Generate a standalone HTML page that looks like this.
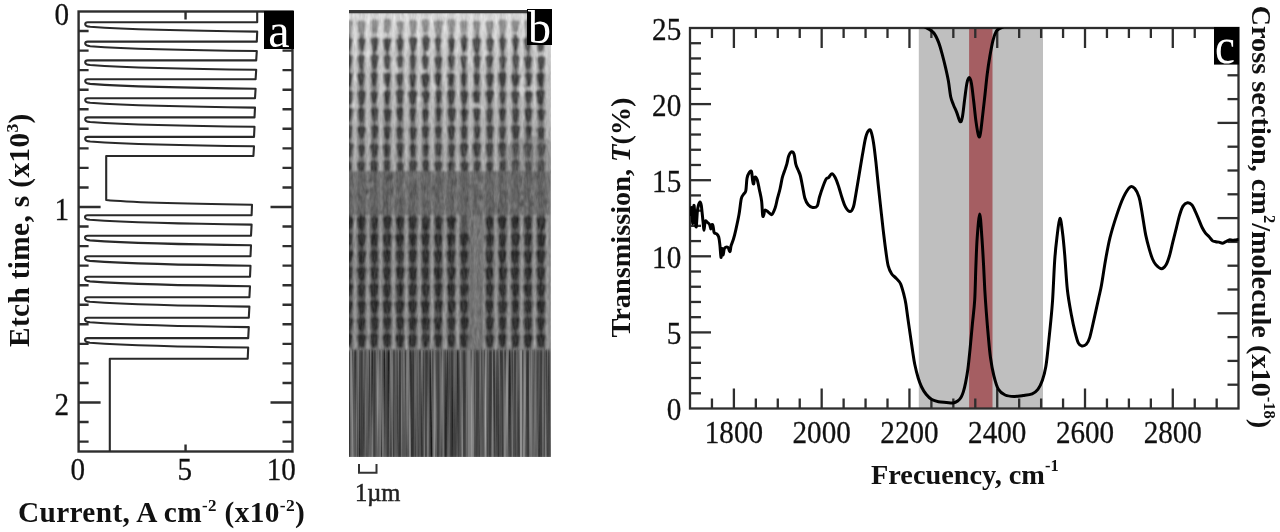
<!DOCTYPE html>
<html><head><meta charset="utf-8"><title>Figure</title>
<style>
html,body{margin:0;padding:0;background:#fff;width:1280px;height:532px;overflow:hidden}
svg{display:block;filter:blur(0.65px)}
</style></head><body>
<svg width="1280" height="532" viewBox="0 0 1280 532">
<rect width="1280" height="532" fill="#fff"/>
<g id="pa" stroke="#2e2e2e" fill="none" stroke-width="2.4">
<rect x="78.6" y="11.5" width="213.9" height="440"/>
<path d="M78.6,31.05h10M292.5,31.05h-10"/>
<path d="M78.6,50.6h10M292.5,50.6h-10"/>
<path d="M78.6,70.15h10M292.5,70.15h-10"/>
<path d="M78.6,89.7h10M292.5,89.7h-10"/>
<path d="M78.6,109.25h10M292.5,109.25h-10"/>
<path d="M78.6,128.8h10M292.5,128.8h-10"/>
<path d="M78.6,148.35h10M292.5,148.35h-10"/>
<path d="M78.6,167.9h10M292.5,167.9h-10"/>
<path d="M78.6,187.45h10M292.5,187.45h-10"/>
<path d="M78.6,207h22M292.5,207h-22"/>
<path d="M78.6,226.55h10M292.5,226.55h-10"/>
<path d="M78.6,246.1h10M292.5,246.1h-10"/>
<path d="M78.6,265.65h10M292.5,265.65h-10"/>
<path d="M78.6,285.2h10M292.5,285.2h-10"/>
<path d="M78.6,304.75h10M292.5,304.75h-10"/>
<path d="M78.6,324.3h10M292.5,324.3h-10"/>
<path d="M78.6,343.85h10M292.5,343.85h-10"/>
<path d="M78.6,363.4h10M292.5,363.4h-10"/>
<path d="M78.6,382.95h10M292.5,382.95h-10"/>
<path d="M78.6,402.5h22M292.5,402.5h-22"/>
<path d="M78.6,422.05h10M292.5,422.05h-10"/>
<path d="M78.6,441.6h10M292.5,441.6h-10"/>
<path d="M185.55,11.5v8M185.55,451.5v-7"/>
</g>
<path d="M257.2,11.5 L257.2,22.2 L87.7,22.2 Q85.2,22.2 85.2,24.2 Q85.2,26.2 90.2,26.8 C125.2,29.2 197.2,31 257.2,31.6 L256.8,41.6 L87.7,41.6 Q85.2,41.6 85.2,43.6 Q85.2,45.6 90.2,46.2 C125.2,48.6 196.8,50.4 256.8,51 L256.2,60.4 L87.7,60.4 Q85.2,60.4 85.2,62.4 Q85.2,64.4 90.2,65 C125.2,67.4 196.2,69.2 256.2,69.8 L255.6,79.3 L87.7,79.3 Q85.2,79.3 85.2,81.3 Q85.2,83.3 90.2,83.9 C125.2,86.3 195.6,88.1 255.6,88.7 L255,98.2 L87.7,98.2 Q85.2,98.2 85.2,100.2 Q85.2,102.2 90.2,102.8 C125.2,105.2 195,107 255,107.6 L254.5,117.4 L87.7,117.4 Q85.2,117.4 85.2,119.4 Q85.2,121.4 90.2,122 C125.2,124.4 194.5,126.2 254.5,126.8 L254,136.9 L87.7,136.9 Q85.2,136.9 85.2,138.9 Q85.2,140.9 90.2,141.5 C125.2,143.9 194,145.7 254,146.3 L253.4,156 L106.2,156 L106.2,200 C130,202.5 200,204 252,204.7 L251.6,215.2 L87.5,215.2 Q85,215.2 85,217.2 Q85,219.2 90,219.8 C125,222.2 191.6,224 251.6,224.6 L251,235.8 L87.5,235.8 Q85,235.8 85,237.8 Q85,239.8 90,240.4 C125,242.8 191,244.6 251,245.2 L250.5,256.3 L87.5,256.3 Q85,256.3 85,258.3 Q85,260.3 90,260.9 C125,263.3 190.5,265.1 250.5,265.7 L250,276.8 L87.5,276.8 Q85,276.8 85,278.8 Q85,280.8 90,281.4 C125,283.8 190,285.6 250,286.2 L249.4,297.2 L87.5,297.2 Q85,297.2 85,299.2 Q85,301.2 90,301.8 C125,304.2 189.4,306 249.4,306.6 L248.8,317.7 L87.5,317.7 Q85,317.7 85,319.7 Q85,321.7 90,322.3 C125,324.7 188.8,326.5 248.8,327.1 L248.2,338.1 L87.5,338.1 Q85,338.1 85,340.1 Q85,342.1 90,342.7 C125,345.1 188.2,346.9 248.2,347.5 L247.7,358.7 L109.8,358.7 L109.8,451.5" stroke="#2a2a2a" stroke-width="2.1" fill="none" stroke-linejoin="round"/>
<g font-family="Liberation Serif" font-size="28.3" fill="#111">
<text transform="translate(69,24.52) scale(1.03,1.1)" text-anchor="end" stroke="#111" stroke-width="0.25">0</text>
<text transform="translate(69,219.52) scale(1.03,1.1)" text-anchor="end" stroke="#111" stroke-width="0.25">1</text>
<text transform="translate(69,415.02) scale(1.03,1.1)" text-anchor="end" stroke="#111" stroke-width="0.25">2</text>
<text transform="translate(77.8,480) scale(1.03,1.1)" text-anchor="middle" stroke="#111" stroke-width="0.25">0</text>
<text transform="translate(184.75,480) scale(1.03,1.1)" text-anchor="middle" stroke="#111" stroke-width="0.25">5</text>
<text transform="translate(281.2,480) scale(1.03,1.1)" text-anchor="middle" stroke="#111" stroke-width="0.25">10</text>
</g>
<rect x="264" y="11" width="30" height="38" fill="#000"/>
<text x="279" y="46.5" text-anchor="middle" font-family="Liberation Serif" font-size="48" fill="#fff">a</text>
<text x="18" y="522" font-family="Liberation Serif" font-weight="bold" font-size="29.3" letter-spacing="0.36" fill="#111">Current, A cm<tspan font-size="17" dy="-11">-2</tspan><tspan dy="11"> (x10</tspan><tspan font-size="17.5" dy="-11">-2</tspan><tspan dy="11">)</tspan></text>
<text transform="translate(28.6,347) rotate(-90)" font-family="Liberation Serif" font-weight="bold" font-size="29.3" letter-spacing="0.36" fill="#111">Etch time, s (x10<tspan font-size="17.5" dy="-11">3</tspan><tspan dy="11">)</tspan></text>
<defs>
<clipPath id="semclip"><rect x="349" y="10" width="202" height="447"/></clipPath>
<filter id="bl1" x="-5%" y="-5%" width="110%" height="110%"><feGaussianBlur stdDeviation="1.1"/></filter>
<filter id="bl2" x="-5%" y="-5%" width="110%" height="110%"><feGaussianBlur stdDeviation="0.6 1.5"/></filter>
<linearGradient id="semtop" x1="0" y1="0" x2="0" y2="1"><stop offset="0" stop-color="#e2e2e2"/><stop offset="0.18" stop-color="#d0d0d0"/><stop offset="0.4" stop-color="#acacac"/><stop offset="1" stop-color="#888"/></linearGradient><linearGradient id="semstripe" x1="0" y1="0" x2="0" y2="1"><stop offset="0" stop-color="#f6f6f6"/><stop offset="0.3" stop-color="#d6d6d6"/><stop offset="1" stop-color="#b2b2b2"/></linearGradient>
<filter id="noise" x="0" y="0" width="100%" height="100%" color-interpolation-filters="sRGB"><feTurbulence type="fractalNoise" baseFrequency="0.35 0.12" numOctaves="2" seed="5"/><feColorMatrix type="matrix" values="0.6 0.6 0.6 0 -0.4  0.6 0.6 0.6 0 -0.4  0.6 0.6 0.6 0 -0.4  0 0 0 0 1"/></filter>
<filter id="streak" x="0" y="0" width="100%" height="100%" color-interpolation-filters="sRGB"><feTurbulence type="fractalNoise" baseFrequency="0.42 0.006" numOctaves="2" seed="11"/><feColorMatrix type="matrix" values="0.55 0.55 0.55 0 -0.47  0.55 0.55 0.55 0 -0.47  0.55 0.55 0.55 0 -0.47  0 0 0 0 1"/></filter>
<clipPath id="cclip"><rect x="690" y="28" width="548.5" height="380.5"/></clipPath>
</defs>
<g clip-path="url(#semclip)">
<g filter="url(#bl1)"><rect x="349" y="10" width="202" height="447" fill="#999"/><rect x="349" y="13" width="202" height="160" fill="url(#semtop)"/><rect x="349" y="212" width="202" height="140" fill="#6a6a6a"/><rect x="352.8" y="13" width="4.6" height="158" fill="url(#semstripe)"/><rect x="353.5" y="214" width="3.2" height="136" fill="#a2a2a2"/><rect x="365.62" y="13" width="4.6" height="158" fill="url(#semstripe)"/><rect x="366.32" y="214" width="3.2" height="136" fill="#a2a2a2"/><rect x="378.44" y="13" width="4.6" height="158" fill="url(#semstripe)"/><rect x="379.14" y="214" width="3.2" height="136" fill="#a2a2a2"/><rect x="391.26" y="13" width="4.6" height="158" fill="url(#semstripe)"/><rect x="391.96" y="214" width="3.2" height="136" fill="#a2a2a2"/><rect x="404.08" y="13" width="4.6" height="158" fill="url(#semstripe)"/><rect x="404.78" y="214" width="3.2" height="136" fill="#a2a2a2"/><rect x="416.9" y="13" width="4.6" height="158" fill="url(#semstripe)"/><rect x="417.6" y="214" width="3.2" height="136" fill="#a2a2a2"/><rect x="429.72" y="13" width="4.6" height="158" fill="url(#semstripe)"/><rect x="430.42" y="214" width="3.2" height="136" fill="#a2a2a2"/><rect x="442.54" y="13" width="4.6" height="158" fill="url(#semstripe)"/><rect x="443.24" y="214" width="3.2" height="136" fill="#a2a2a2"/><rect x="455.36" y="13" width="4.6" height="158" fill="url(#semstripe)"/><rect x="456.06" y="214" width="3.2" height="136" fill="#a2a2a2"/><rect x="468.18" y="13" width="4.6" height="158" fill="url(#semstripe)"/><rect x="468.88" y="214" width="3.2" height="136" fill="#a2a2a2"/><rect x="481" y="13" width="4.6" height="158" fill="url(#semstripe)"/><rect x="481.7" y="214" width="3.2" height="136" fill="#a2a2a2"/><rect x="493.82" y="13" width="4.6" height="158" fill="url(#semstripe)"/><rect x="494.52" y="214" width="3.2" height="136" fill="#a2a2a2"/><rect x="506.64" y="13" width="4.6" height="158" fill="url(#semstripe)"/><rect x="507.34" y="214" width="3.2" height="136" fill="#a2a2a2"/><rect x="519.46" y="13" width="4.6" height="158" fill="url(#semstripe)"/><rect x="520.16" y="214" width="3.2" height="136" fill="#a2a2a2"/><rect x="532.28" y="13" width="4.6" height="158" fill="url(#semstripe)"/><rect x="532.98" y="214" width="3.2" height="136" fill="#a2a2a2"/><rect x="545.1" y="13" width="4.6" height="158" fill="url(#semstripe)"/><rect x="545.8" y="214" width="3.2" height="136" fill="#a2a2a2"/><rect x="346.5" y="34" width="4.4" height="136" fill="#6a6a6a"/><rect x="346.4" y="214" width="4.6" height="134" fill="#404040"/><rect x="359.32" y="34" width="4.4" height="136" fill="#6a6a6a"/><rect x="359.22" y="214" width="4.6" height="134" fill="#404040"/><rect x="372.14" y="34" width="4.4" height="136" fill="#6a6a6a"/><rect x="372.04" y="214" width="4.6" height="134" fill="#404040"/><rect x="384.96" y="34" width="4.4" height="136" fill="#6a6a6a"/><rect x="384.86" y="214" width="4.6" height="134" fill="#404040"/><rect x="397.78" y="34" width="4.4" height="136" fill="#6a6a6a"/><rect x="397.68" y="214" width="4.6" height="134" fill="#404040"/><rect x="410.6" y="34" width="4.4" height="136" fill="#6a6a6a"/><rect x="410.5" y="214" width="4.6" height="134" fill="#404040"/><rect x="423.42" y="34" width="4.4" height="136" fill="#6a6a6a"/><rect x="423.32" y="214" width="4.6" height="134" fill="#404040"/><rect x="436.24" y="34" width="4.4" height="136" fill="#6a6a6a"/><rect x="436.14" y="214" width="4.6" height="134" fill="#404040"/><rect x="449.06" y="34" width="4.4" height="136" fill="#6a6a6a"/><rect x="448.96" y="214" width="4.6" height="134" fill="#404040"/><rect x="461.88" y="34" width="4.4" height="136" fill="#6a6a6a"/><rect x="461.78" y="214" width="4.6" height="134" fill="#404040"/><rect x="474.7" y="34" width="4.4" height="136" fill="#6a6a6a"/><rect x="474.6" y="214" width="4.6" height="134" fill="#404040"/><rect x="487.52" y="34" width="4.4" height="136" fill="#6a6a6a"/><rect x="487.42" y="214" width="4.6" height="134" fill="#404040"/><rect x="500.34" y="34" width="4.4" height="136" fill="#6a6a6a"/><rect x="500.24" y="214" width="4.6" height="134" fill="#404040"/><rect x="513.16" y="34" width="4.4" height="136" fill="#6a6a6a"/><rect x="513.06" y="214" width="4.6" height="134" fill="#404040"/><rect x="525.98" y="34" width="4.4" height="136" fill="#6a6a6a"/><rect x="525.88" y="214" width="4.6" height="134" fill="#404040"/><rect x="538.8" y="34" width="4.4" height="136" fill="#6a6a6a"/><rect x="538.7" y="214" width="4.6" height="134" fill="#404040"/><ellipse cx="414.41" cy="28.48" rx="3.95" ry="2.29" fill="#f0f0f0" opacity="0.55"/><ellipse cx="457.25" cy="49.11" rx="2.17" ry="4.03" fill="#f0f0f0" opacity="0.55"/><ellipse cx="356.57" cy="55.63" rx="2.21" ry="2.36" fill="#f0f0f0" opacity="0.55"/><ellipse cx="434.75" cy="93.38" rx="2.37" ry="2.89" fill="#f0f0f0" opacity="0.55"/><ellipse cx="475.74" cy="104.98" rx="3.73" ry="3.59" fill="#f0f0f0" opacity="0.55"/><ellipse cx="546.2" cy="18.47" rx="4.58" ry="3.16" fill="#f0f0f0" opacity="0.55"/><ellipse cx="378.14" cy="25.31" rx="2.93" ry="5.26" fill="#f0f0f0" opacity="0.55"/><ellipse cx="385.51" cy="69.83" rx="3.92" ry="3.49" fill="#f0f0f0" opacity="0.55"/><ellipse cx="459.64" cy="20.03" rx="2.18" ry="2.82" fill="#f0f0f0" opacity="0.55"/><ellipse cx="486.44" cy="55.05" rx="2.94" ry="4.34" fill="#f0f0f0" opacity="0.55"/><ellipse cx="440.54" cy="42.78" rx="4.38" ry="4.8" fill="#f0f0f0" opacity="0.55"/><ellipse cx="398.31" cy="69.14" rx="3.58" ry="5.5" fill="#f0f0f0" opacity="0.55"/><ellipse cx="496.35" cy="41.64" rx="4.94" ry="2.47" fill="#f0f0f0" opacity="0.55"/><ellipse cx="433.46" cy="86.69" rx="2.46" ry="3.96" fill="#f0f0f0" opacity="0.55"/><ellipse cx="356.92" cy="78.15" rx="4.29" ry="4.29" fill="#f0f0f0" opacity="0.55"/><ellipse cx="525.85" cy="44.12" rx="4.09" ry="4.38" fill="#f0f0f0" opacity="0.55"/><ellipse cx="466.14" cy="57.8" rx="4.52" ry="5.78" fill="#f0f0f0" opacity="0.55"/><ellipse cx="444.77" cy="77.76" rx="2.18" ry="4.81" fill="#f0f0f0" opacity="0.55"/><ellipse cx="479.72" cy="109.34" rx="4.47" ry="3.14" fill="#f0f0f0" opacity="0.55"/><ellipse cx="426.93" cy="78.19" rx="2.07" ry="3.85" fill="#f0f0f0" opacity="0.55"/><ellipse cx="382.95" cy="25.24" rx="2.18" ry="5.07" fill="#f0f0f0" opacity="0.55"/><ellipse cx="375.13" cy="37.77" rx="3.17" ry="5.49" fill="#f0f0f0" opacity="0.55"/><ellipse cx="365.28" cy="57.12" rx="3.65" ry="5.53" fill="#f0f0f0" opacity="0.55"/><ellipse cx="514.49" cy="96.94" rx="2.84" ry="3.66" fill="#f0f0f0" opacity="0.55"/><ellipse cx="421.47" cy="98.88" rx="4.87" ry="2.6" fill="#f0f0f0" opacity="0.55"/><ellipse cx="384.6" cy="36.27" rx="2.7" ry="3.94" fill="#f0f0f0" opacity="0.55"/><ellipse cx="468" cy="39.22" rx="2.01" ry="3.68" fill="#f0f0f0" opacity="0.55"/><ellipse cx="423.59" cy="68.37" rx="4.86" ry="4.76" fill="#f0f0f0" opacity="0.55"/><ellipse cx="453.13" cy="73.29" rx="4.03" ry="2.22" fill="#f0f0f0" opacity="0.55"/><ellipse cx="530.71" cy="88.88" rx="4.62" ry="5.19" fill="#f0f0f0" opacity="0.55"/><ellipse cx="428.26" cy="52.3" rx="2.31" ry="4.54" fill="#f0f0f0" opacity="0.55"/><ellipse cx="361.57" cy="20.47" rx="2.63" ry="2.65" fill="#f0f0f0" opacity="0.55"/><ellipse cx="417.69" cy="19.05" rx="2" ry="2.61" fill="#f0f0f0" opacity="0.55"/><ellipse cx="369.5" cy="48.91" rx="2.08" ry="5.5" fill="#f0f0f0" opacity="0.55"/><ellipse cx="473.04" cy="28.26" rx="2.76" ry="3.39" fill="#f0f0f0" opacity="0.55"/><ellipse cx="422.56" cy="25.79" rx="4.55" ry="5.97" fill="#f0f0f0" opacity="0.55"/><ellipse cx="443.13" cy="60.45" rx="2.26" ry="2.41" fill="#f0f0f0" opacity="0.55"/><ellipse cx="418.21" cy="39.42" rx="4.49" ry="2.65" fill="#f0f0f0" opacity="0.55"/><ellipse cx="353.67" cy="105.29" rx="3.58" ry="2.59" fill="#f0f0f0" opacity="0.55"/><ellipse cx="458.72" cy="16.6" rx="3.58" ry="5.91" fill="#f0f0f0" opacity="0.55"/><ellipse cx="523.39" cy="80.83" rx="2.78" ry="3.47" fill="#f0f0f0" opacity="0.55"/><ellipse cx="382.74" cy="88.11" rx="3.6" ry="5.12" fill="#f0f0f0" opacity="0.55"/><ellipse cx="415.59" cy="35.41" rx="4.43" ry="5.94" fill="#f0f0f0" opacity="0.55"/><ellipse cx="521.23" cy="91.38" rx="4.45" ry="4.96" fill="#f0f0f0" opacity="0.55"/><ellipse cx="394.8" cy="63.69" rx="3.07" ry="2.12" fill="#f0f0f0" opacity="0.55"/><ellipse cx="354.64" cy="40.82" rx="2.78" ry="4.77" fill="#f0f0f0" opacity="0.55"/><ellipse cx="542.22" cy="56.93" rx="4.81" ry="5.95" fill="#f0f0f0" opacity="0.55"/><ellipse cx="541.91" cy="49.01" rx="2.66" ry="2.91" fill="#f0f0f0" opacity="0.55"/><ellipse cx="388.73" cy="33.62" rx="3.87" ry="5.6" fill="#f0f0f0" opacity="0.55"/><ellipse cx="518.77" cy="60.03" rx="3.96" ry="5.2" fill="#f0f0f0" opacity="0.55"/><path d="M345.12,23.05 Q345.12,20.05 349.11,20.05 Q353.1,20.05 353.1,23.05 L351.83,31.34 Q351.83,34.34 349.11,34.34 Q346.39,34.34 346.39,31.34 Z" fill="#707070" opacity="0.7"/><path d="M356.47,23.3 Q356.47,20.3 361.2,20.3 Q365.92,20.3 365.92,23.3 L364.41,31.11 Q364.41,34.11 361.2,34.11 Q357.99,34.11 357.99,31.11 Z" fill="#707070" opacity="0.7"/><path d="M370.55,22.32 Q370.55,19.32 374.81,19.32 Q379.08,19.32 379.08,22.32 L377.71,30.99 Q377.71,33.99 374.81,33.99 Q371.91,33.99 371.91,30.99 Z" fill="#707070" opacity="0.7"/><path d="M383.04,21.81 Q383.04,18.81 387.38,18.81 Q391.73,18.81 391.73,21.81 L390.34,30.87 Q390.34,33.87 387.38,33.87 Q384.43,33.87 384.43,30.87 Z" fill="#707070" opacity="0.7"/><path d="M396.35,23.76 Q396.35,20.76 400.38,20.76 Q404.42,20.76 404.42,23.76 L403.13,30.7 Q403.13,33.7 400.38,33.7 Q397.64,33.7 397.64,30.7 Z" fill="#707070" opacity="0.7"/><path d="M409.22,22.65 Q409.22,19.65 413.28,19.65 Q417.34,19.65 417.34,22.65 L416.04,31.39 Q416.04,34.39 413.28,34.39 Q410.52,34.39 410.52,31.39 Z" fill="#707070" opacity="0.7"/><path d="M420.97,22.12 Q420.97,19.12 425.25,19.12 Q429.54,19.12 429.54,22.12 L428.17,30.12 Q428.17,33.12 425.25,33.12 Q422.34,33.12 422.34,30.12 Z" fill="#707070" opacity="0.7"/><path d="M433.5,23.27 Q433.5,20.27 438.47,20.27 Q443.43,20.27 443.43,23.27 L441.84,31.54 Q441.84,34.54 438.47,34.54 Q435.09,34.54 435.09,31.54 Z" fill="#707070" opacity="0.7"/><path d="M447.21,21.97 Q447.21,18.97 451.59,18.97 Q455.96,18.97 455.96,21.97 L454.56,30.82 Q454.56,33.82 451.59,33.82 Q448.61,33.82 448.61,30.82 Z" fill="#707070" opacity="0.7"/><path d="M459.64,23.26 Q459.64,20.26 463.82,20.26 Q468,20.26 468,23.26 L466.66,30.58 Q466.66,33.58 463.82,33.58 Q460.98,33.58 460.98,30.58 Z" fill="#707070" opacity="0.7"/><path d="M472.35,23.55 Q472.35,20.55 476.53,20.55 Q480.72,20.55 480.72,23.55 L479.38,31.2 Q479.38,34.2 476.53,34.2 Q473.69,34.2 473.69,31.2 Z" fill="#707070" opacity="0.7"/><path d="M485.51,23.49 Q485.51,20.49 489.8,20.49 Q494.09,20.49 494.09,23.49 L492.72,31.25 Q492.72,34.25 489.8,34.25 Q486.89,34.25 486.89,31.25 Z" fill="#707070" opacity="0.7"/><path d="M498.18,22.35 Q498.18,19.35 502.54,19.35 Q506.9,19.35 506.9,22.35 L505.51,31.34 Q505.51,34.34 502.54,34.34 Q499.58,34.34 499.58,31.34 Z" fill="#707070" opacity="0.7"/><path d="M510.82,23.06 Q510.82,20.06 515.3,20.06 Q519.78,20.06 519.78,23.06 L518.34,29.65 Q518.34,32.65 515.3,32.65 Q512.26,32.65 512.26,29.65 Z" fill="#707070" opacity="0.7"/><path d="M523.95,22.43 Q523.95,19.43 527.85,19.43 Q531.76,19.43 531.76,22.43 L530.51,31.1 Q530.51,34.1 527.85,34.1 Q525.2,34.1 525.2,31.1 Z" fill="#707070" opacity="0.7"/><path d="M536.13,22.82 Q536.13,19.82 540.83,19.82 Q545.52,19.82 545.52,22.82 L544.02,30.84 Q544.02,33.84 540.83,33.84 Q537.63,33.84 537.63,30.84 Z" fill="#707070" opacity="0.7"/><path d="M343.8,40.22 Q343.8,37.22 348.31,37.22 Q352.82,37.22 352.82,40.22 L351.37,48.85 Q351.37,51.85 348.31,51.85 Q345.24,51.85 345.24,48.85 Z" fill="#404040" opacity="0.95"/><path d="M357.62,40.82 Q357.62,37.82 361.79,37.82 Q365.97,37.82 365.97,40.82 L364.63,48.1 Q364.63,51.1 361.79,51.1 Q358.95,51.1 358.95,48.1 Z" fill="#404040" opacity="0.95"/><path d="M370.23,40.09 Q370.23,37.09 374.75,37.09 Q379.27,37.09 379.27,40.09 L377.82,48.65 Q377.82,51.65 374.75,51.65 Q371.68,51.65 371.68,48.65 Z" fill="#404040" opacity="0.95"/><path d="M382.6,40.78 Q382.6,37.78 387.17,37.78 Q391.75,37.78 391.75,40.78 L390.28,48.66 Q390.28,51.66 387.17,51.66 Q384.06,51.66 384.06,48.66 Z" fill="#404040" opacity="0.95"/><path d="M395.56,41.09 Q395.56,38.09 399.96,38.09 Q404.36,38.09 404.36,41.09 L402.95,49.05 Q402.95,52.05 399.96,52.05 Q396.97,52.05 396.97,49.05 Z" fill="#404040" opacity="0.95"/><path d="M408.57,39.68 Q408.57,36.68 413.24,36.68 Q417.91,36.68 417.91,39.68 L416.42,48.55 Q416.42,51.55 413.24,51.55 Q410.07,51.55 410.07,48.55 Z" fill="#404040" opacity="0.95"/><path d="M421.44,39.42 Q421.44,36.42 425.96,36.42 Q430.48,36.42 430.48,39.42 L429.03,48.47 Q429.03,51.47 425.96,51.47 Q422.89,51.47 422.89,48.47 Z" fill="#404040" opacity="0.95"/><path d="M433.98,40.23 Q433.98,37.23 438.01,37.23 Q442.05,37.23 442.05,40.23 L440.76,47.94 Q440.76,50.94 438.01,50.94 Q435.27,50.94 435.27,47.94 Z" fill="#404040" opacity="0.95"/><path d="M447.56,40.85 Q447.56,37.85 451.54,37.85 Q455.52,37.85 455.52,40.85 L454.25,49.17 Q454.25,52.17 451.54,52.17 Q448.84,52.17 448.84,49.17 Z" fill="#404040" opacity="0.95"/><path d="M460.17,39.73 Q460.17,36.73 464.24,36.73 Q468.31,36.73 468.31,39.73 L467.01,48.17 Q467.01,51.17 464.24,51.17 Q461.47,51.17 461.47,48.17 Z" fill="#404040" opacity="0.95"/><path d="M471.75,40.53 Q471.75,37.53 476.62,37.53 Q481.49,37.53 481.49,40.53 L479.93,49.64 Q479.93,52.64 476.62,52.64 Q473.31,52.64 473.31,49.64 Z" fill="#404040" opacity="0.95"/><path d="M485.87,41 Q485.87,38 490.21,38 Q494.55,38 494.55,41 L493.16,48.83 Q493.16,51.83 490.21,51.83 Q487.26,51.83 487.26,48.83 Z" fill="#404040" opacity="0.95"/><path d="M498.48,40.38 Q498.48,37.38 502.56,37.38 Q506.63,37.38 506.63,40.38 L505.33,48.07 Q505.33,51.07 502.56,51.07 Q499.78,51.07 499.78,48.07 Z" fill="#404040" opacity="0.95"/><path d="M511.47,40.08 Q511.47,37.08 515.58,37.08 Q519.7,37.08 519.7,40.08 L518.38,47.47 Q518.38,50.47 515.58,50.47 Q512.78,50.47 512.78,47.47 Z" fill="#404040" opacity="0.95"/><path d="M523.19,40.36 Q523.19,37.36 527.7,37.36 Q532.21,37.36 532.21,40.36 L530.76,48.07 Q530.76,51.07 527.7,51.07 Q524.63,51.07 524.63,48.07 Z" fill="#404040" opacity="0.95"/><path d="M535.98,41.18 Q535.98,38.18 540.56,38.18 Q545.15,38.18 545.15,41.18 L543.68,49.08 Q543.68,52.08 540.56,52.08 Q537.45,52.08 537.45,49.08 Z" fill="#404040" opacity="0.95"/><path d="M343.54,57.21 Q343.54,54.21 348.3,54.21 Q353.07,54.21 353.07,57.21 L351.55,66.33 Q351.55,69.33 348.3,69.33 Q345.06,69.33 345.06,66.33 Z" fill="#404040" opacity="0.95"/><path d="M357.35,57.28 Q357.35,54.28 361.29,54.28 Q365.23,54.28 365.23,57.28 L363.97,65.89 Q363.97,68.89 361.29,68.89 Q358.61,68.89 358.61,65.89 Z" fill="#404040" opacity="0.95"/><path d="M370.29,57.28 Q370.29,54.28 374.66,54.28 Q379.02,54.28 379.02,57.28 L377.63,66.24 Q377.63,69.24 374.66,69.24 Q371.69,69.24 371.69,66.24 Z" fill="#404040" opacity="0.95"/><path d="M383.17,57.89 Q383.17,54.89 387.23,54.89 Q391.29,54.89 391.29,57.89 L389.99,66.87 Q389.99,69.87 387.23,69.87 Q384.47,69.87 384.47,66.87 Z" fill="#404040" opacity="0.95"/><path d="M396.17,58.65 Q396.17,55.65 400.17,55.65 Q404.17,55.65 404.17,58.65 L402.89,65.34 Q402.89,68.34 400.17,68.34 Q397.45,68.34 397.45,65.34 Z" fill="#404040" opacity="0.95"/><path d="M408.95,58 Q408.95,55 412.93,55 Q416.91,55 416.91,58 L415.64,67.04 Q415.64,70.04 412.93,70.04 Q410.23,70.04 410.23,67.04 Z" fill="#404040" opacity="0.95"/><path d="M421.19,58.2 Q421.19,55.2 425.19,55.2 Q429.18,55.2 429.18,58.2 L427.9,67.02 Q427.9,70.02 425.19,70.02 Q422.47,70.02 422.47,67.02 Z" fill="#404040" opacity="0.95"/><path d="M434.09,58.98 Q434.09,55.98 438.49,55.98 Q442.89,55.98 442.89,58.98 L441.48,66.42 Q441.48,69.42 438.49,69.42 Q435.5,69.42 435.5,66.42 Z" fill="#404040" opacity="0.95"/><path d="M447.09,58.29 Q447.09,55.29 451.29,55.29 Q455.48,55.29 455.48,58.29 L454.14,65.18 Q454.14,68.18 451.29,68.18 Q448.43,68.18 448.43,65.18 Z" fill="#404040" opacity="0.95"/><path d="M459.61,58.2 Q459.61,55.2 463.63,55.2 Q467.65,55.2 467.65,58.2 L466.36,65.17 Q466.36,68.17 463.63,68.17 Q460.9,68.17 460.9,65.17 Z" fill="#404040" opacity="0.95"/><path d="M472.92,58.13 Q472.92,55.13 477.16,55.13 Q481.4,55.13 481.4,58.13 L480.04,65.48 Q480.04,68.48 477.16,68.48 Q474.27,68.48 474.27,65.48 Z" fill="#404040" opacity="0.95"/><path d="M485.12,57.92 Q485.12,54.92 489.57,54.92 Q494.02,54.92 494.02,57.92 L492.59,64.93 Q492.59,67.93 489.57,67.93 Q486.54,67.93 486.54,64.93 Z" fill="#404040" opacity="0.95"/><path d="M498.6,58.88 Q498.6,55.88 502.77,55.88 Q506.95,55.88 506.95,58.88 L505.61,65.46 Q505.61,68.46 502.77,68.46 Q499.93,68.46 499.93,65.46 Z" fill="#404040" opacity="0.95"/><path d="M511.69,57.65 Q511.69,54.65 515.79,54.65 Q519.9,54.65 519.9,57.65 L518.59,65.45 Q518.59,68.45 515.79,68.45 Q513,68.45 513,65.45 Z" fill="#404040" opacity="0.95"/><path d="M523.37,58.72 Q523.37,55.72 528.18,55.72 Q532.98,55.72 532.98,58.72 L531.44,66.41 Q531.44,69.41 528.18,69.41 Q524.91,69.41 524.91,66.41 Z" fill="#404040" opacity="0.95"/><path d="M536.86,58.83 Q536.86,55.83 541.19,55.83 Q545.52,55.83 545.52,58.83 L544.13,66.72 Q544.13,69.72 541.19,69.72 Q538.24,69.72 538.24,66.72 Z" fill="#404040" opacity="0.95"/><path d="M344.63,75.56 Q344.63,72.56 348.91,72.56 Q353.18,72.56 353.18,75.56 L351.82,84.32 Q351.82,87.32 348.91,87.32 Q346,87.32 346,84.32 Z" fill="#333" opacity="0.95"/><path d="M356.73,75.5 Q356.73,72.5 361.07,72.5 Q365.42,72.5 365.42,75.5 L364.03,82.96 Q364.03,85.96 361.07,85.96 Q358.12,85.96 358.12,82.96 Z" fill="#333" opacity="0.95"/><path d="M370.12,75.02 Q370.12,72.02 374.1,72.02 Q378.07,72.02 378.07,75.02 L376.8,83.53 Q376.8,86.53 374.1,86.53 Q371.39,86.53 371.39,83.53 Z" fill="#333" opacity="0.95"/><path d="M383.54,75.6 Q383.54,72.6 387.53,72.6 Q391.52,72.6 391.52,75.6 L390.25,84.38 Q390.25,87.38 387.53,87.38 Q384.82,87.38 384.82,84.38 Z" fill="#333" opacity="0.95"/><path d="M395.56,76.1 Q395.56,73.1 399.77,73.1 Q403.98,73.1 403.98,76.1 L402.64,83.29 Q402.64,86.29 399.77,86.29 Q396.91,86.29 396.91,83.29 Z" fill="#333" opacity="0.95"/><path d="M408.49,76.53 Q408.49,73.53 412.56,73.53 Q416.64,73.53 416.64,76.53 L415.33,84.26 Q415.33,87.26 412.56,87.26 Q409.79,87.26 409.79,84.26 Z" fill="#333" opacity="0.95"/><path d="M420.39,76.4 Q420.39,73.4 425.36,73.4 Q430.33,73.4 430.33,76.4 L428.74,84.4 Q428.74,87.4 425.36,87.4 Q421.98,87.4 421.98,84.4 Z" fill="#333" opacity="0.95"/><path d="M433.7,75.84 Q433.7,72.84 437.94,72.84 Q442.18,72.84 442.18,75.84 L440.82,83.33 Q440.82,86.33 437.94,86.33 Q435.06,86.33 435.06,83.33 Z" fill="#333" opacity="0.95"/><path d="M446.54,75.82 Q446.54,72.82 450.96,72.82 Q455.38,72.82 455.38,75.82 L453.97,83.7 Q453.97,86.7 450.96,86.7 Q447.95,86.7 447.95,83.7 Z" fill="#333" opacity="0.95"/><path d="M459.76,75.99 Q459.76,72.99 463.67,72.99 Q467.58,72.99 467.58,75.99 L466.33,83.23 Q466.33,86.23 463.67,86.23 Q461.01,86.23 461.01,83.23 Z" fill="#333" opacity="0.95"/><path d="M472.76,76.08 Q472.76,73.08 476.7,73.08 Q480.65,73.08 480.65,76.08 L479.39,82.68 Q479.39,85.68 476.7,85.68 Q474.02,85.68 474.02,82.68 Z" fill="#333" opacity="0.95"/><path d="M485.43,76 Q485.43,73 489.97,73 Q494.51,73 494.51,76 L493.06,83.94 Q493.06,86.94 489.97,86.94 Q486.88,86.94 486.88,83.94 Z" fill="#333" opacity="0.95"/><path d="M497.74,75.07 Q497.74,72.07 502.43,72.07 Q507.12,72.07 507.12,75.07 L505.62,83.95 Q505.62,86.95 502.43,86.95 Q499.24,86.95 499.24,83.95 Z" fill="#333" opacity="0.95"/><path d="M510.6,76.48 Q510.6,73.48 515.58,73.48 Q520.57,73.48 520.57,76.48 L518.97,83.42 Q518.97,86.42 515.58,86.42 Q512.2,86.42 512.2,83.42 Z" fill="#333" opacity="0.95"/><path d="M524.62,75.55 Q524.62,72.55 528.57,72.55 Q532.52,72.55 532.52,75.55 L531.26,84.31 Q531.26,87.31 528.57,87.31 Q525.89,87.31 525.89,84.31 Z" fill="#333" opacity="0.95"/><path d="M535.93,75.43 Q535.93,72.43 540.64,72.43 Q545.35,72.43 545.35,75.43 L543.84,84.13 Q543.84,87.13 540.64,87.13 Q537.44,87.13 537.44,84.13 Z" fill="#333" opacity="0.95"/><path d="M344.55,93.48 Q344.55,90.48 349,90.48 Q353.46,90.48 353.46,93.48 L352.03,102.24 Q352.03,105.24 349,105.24 Q345.98,105.24 345.98,102.24 Z" fill="#333" opacity="0.95"/><path d="M357.16,93.21 Q357.16,90.21 361.7,90.21 Q366.25,90.21 366.25,93.21 L364.79,102.13 Q364.79,105.13 361.7,105.13 Q358.61,105.13 358.61,102.13 Z" fill="#333" opacity="0.95"/><path d="M369.82,93.89 Q369.82,90.89 373.97,90.89 Q378.13,90.89 378.13,93.89 L376.8,100.52 Q376.8,103.52 373.97,103.52 Q371.15,103.52 371.15,100.52 Z" fill="#333" opacity="0.95"/><path d="M383.2,93.2 Q383.2,90.2 387.22,90.2 Q391.23,90.2 391.23,93.2 L389.95,101.96 Q389.95,104.96 387.22,104.96 Q384.49,104.96 384.49,101.96 Z" fill="#333" opacity="0.95"/><path d="M395.38,92.53 Q395.38,89.53 399.97,89.53 Q404.56,89.53 404.56,92.53 L403.09,100.88 Q403.09,103.88 399.97,103.88 Q396.85,103.88 396.85,100.88 Z" fill="#333" opacity="0.95"/><path d="M408.03,93.18 Q408.03,90.18 412.8,90.18 Q417.58,90.18 417.58,93.18 L416.05,101.71 Q416.05,104.71 412.8,104.71 Q409.55,104.71 409.55,101.71 Z" fill="#333" opacity="0.95"/><path d="M421.23,93.7 Q421.23,90.7 425.86,90.7 Q430.48,90.7 430.48,93.7 L429,100.41 Q429,103.41 425.86,103.41 Q422.71,103.41 422.71,100.41 Z" fill="#333" opacity="0.95"/><path d="M434.69,93.36 Q434.69,90.36 438.67,90.36 Q442.65,90.36 442.65,93.36 L441.38,100.61 Q441.38,103.61 438.67,103.61 Q435.96,103.61 435.96,100.61 Z" fill="#333" opacity="0.95"/><path d="M446.54,92.67 Q446.54,89.67 451.25,89.67 Q455.97,89.67 455.97,92.67 L454.46,101.8 Q454.46,104.8 451.25,104.8 Q448.05,104.8 448.05,101.8 Z" fill="#333" opacity="0.95"/><path d="M459.92,93.38 Q459.92,90.38 464.35,90.38 Q468.77,90.38 468.77,93.38 L467.36,101.74 Q467.36,104.74 464.35,104.74 Q461.34,104.74 461.34,101.74 Z" fill="#333" opacity="0.95"/><path d="M471.94,93.68 Q471.94,90.68 476.55,90.68 Q481.15,90.68 481.15,93.68 L479.68,100.43 Q479.68,103.43 476.55,103.43 Q473.41,103.43 473.41,100.43 Z" fill="#333" opacity="0.95"/><path d="M485.07,93.04 Q485.07,90.04 489.79,90.04 Q494.51,90.04 494.51,93.04 L493,100.39 Q493,103.39 489.79,103.39 Q486.58,103.39 486.58,100.39 Z" fill="#333" opacity="0.95"/><path d="M498.75,94.04 Q498.75,91.04 502.71,91.04 Q506.68,91.04 506.68,94.04 L505.41,101.3 Q505.41,104.3 502.71,104.3 Q500.01,104.3 500.01,101.3 Z" fill="#333" opacity="0.95"/><path d="M510.73,93.69 Q510.73,90.69 515.38,90.69 Q520.02,90.69 520.02,93.69 L518.53,101.01 Q518.53,104.01 515.38,104.01 Q512.22,104.01 512.22,101.01 Z" fill="#333" opacity="0.95"/><path d="M524.16,93.55 Q524.16,90.55 528.57,90.55 Q532.99,90.55 532.99,93.55 L531.57,100.41 Q531.57,103.41 528.57,103.41 Q525.57,103.41 525.57,100.41 Z" fill="#333" opacity="0.95"/><path d="M535.54,92.83 Q535.54,89.83 540.52,89.83 Q545.49,89.83 545.49,92.83 L543.9,101.86 Q543.9,104.86 540.52,104.86 Q537.13,104.86 537.13,101.86 Z" fill="#333" opacity="0.95"/><path d="M343.85,110.17 Q343.85,107.17 348.65,107.17 Q353.45,107.17 353.45,110.17 L351.91,119.28 Q351.91,122.28 348.65,122.28 Q345.38,122.28 345.38,119.28 Z" fill="#333" opacity="0.95"/><path d="M357.1,110.64 Q357.1,107.64 361.23,107.64 Q365.36,107.64 365.36,110.64 L364.04,119.69 Q364.04,122.69 361.23,122.69 Q358.42,122.69 358.42,119.69 Z" fill="#333" opacity="0.95"/><path d="M370.74,110.57 Q370.74,107.57 374.79,107.57 Q378.85,107.57 378.85,110.57 L377.55,118.5 Q377.55,121.5 374.79,121.5 Q372.03,121.5 372.03,118.5 Z" fill="#333" opacity="0.95"/><path d="M382.74,111.39 Q382.74,108.39 387.55,108.39 Q392.35,108.39 392.35,111.39 L390.81,119.28 Q390.81,122.28 387.55,122.28 Q384.28,122.28 384.28,119.28 Z" fill="#333" opacity="0.95"/><path d="M395.81,109.92 Q395.81,106.92 399.97,106.92 Q404.12,106.92 404.12,109.92 L402.79,118.85 Q402.79,121.85 399.97,121.85 Q397.14,121.85 397.14,118.85 Z" fill="#333" opacity="0.95"/><path d="M408.85,110.85 Q408.85,107.85 412.75,107.85 Q416.65,107.85 416.65,110.85 L415.41,118.7 Q415.41,121.7 412.75,121.7 Q410.1,121.7 410.1,118.7 Z" fill="#333" opacity="0.95"/><path d="M421.38,111.8 Q421.38,108.8 425.44,108.8 Q429.49,108.8 429.49,111.8 L428.19,119.25 Q428.19,122.25 425.44,122.25 Q422.68,122.25 422.68,119.25 Z" fill="#333" opacity="0.95"/><path d="M434.88,110.25 Q434.88,107.25 438.78,107.25 Q442.68,107.25 442.68,110.25 L441.43,118.79 Q441.43,121.79 438.78,121.79 Q436.13,121.79 436.13,118.79 Z" fill="#333" opacity="0.95"/><path d="M446.74,110.54 Q446.74,107.54 451.66,107.54 Q456.58,107.54 456.58,110.54 L455.01,118.97 Q455.01,121.97 451.66,121.97 Q448.32,121.97 448.32,118.97 Z" fill="#333" opacity="0.95"/><path d="M460.27,111.38 Q460.27,108.38 464.58,108.38 Q468.89,108.38 468.89,111.38 L467.51,118.97 Q467.51,121.97 464.58,121.97 Q461.65,121.97 461.65,118.97 Z" fill="#333" opacity="0.95"/><path d="M472.38,110.58 Q472.38,107.58 476.68,107.58 Q480.97,107.58 480.97,110.58 L479.6,118.26 Q479.6,121.26 476.68,121.26 Q473.75,121.26 473.75,118.26 Z" fill="#333" opacity="0.95"/><path d="M485.49,111.28 Q485.49,108.28 489.51,108.28 Q493.52,108.28 493.52,111.28 L492.23,120.04 Q492.23,123.04 489.51,123.04 Q486.78,123.04 486.78,120.04 Z" fill="#333" opacity="0.95"/><path d="M498.38,110.99 Q498.38,107.99 502.55,107.99 Q506.73,107.99 506.73,110.99 L505.39,118.24 Q505.39,121.24 502.55,121.24 Q499.71,121.24 499.71,118.24 Z" fill="#333" opacity="0.95"/><path d="M511.43,110.95 Q511.43,107.95 515.74,107.95 Q520.05,107.95 520.05,110.95 L518.68,120.03 Q518.68,123.03 515.74,123.03 Q512.81,123.03 512.81,120.03 Z" fill="#333" opacity="0.95"/><path d="M524.03,110.63 Q524.03,107.63 528.62,107.63 Q533.21,107.63 533.21,110.63 L531.74,119.6 Q531.74,122.6 528.62,122.6 Q525.5,122.6 525.5,119.6 Z" fill="#333" opacity="0.95"/><path d="M536.54,111.65 Q536.54,108.65 541.23,108.65 Q545.92,108.65 545.92,111.65 L544.42,118.32 Q544.42,121.32 541.23,121.32 Q538.04,121.32 538.04,118.32 Z" fill="#333" opacity="0.95"/><path d="M343.76,127.94 Q343.76,124.94 348.49,124.94 Q353.21,124.94 353.21,127.94 L351.7,136.2 Q351.7,139.2 348.49,139.2 Q345.27,139.2 345.27,136.2 Z" fill="#333" opacity="0.95"/><path d="M356.57,129.04 Q356.57,126.04 361.49,126.04 Q366.41,126.04 366.41,129.04 L364.84,135.92 Q364.84,138.92 361.49,138.92 Q358.15,138.92 358.15,135.92 Z" fill="#333" opacity="0.95"/><path d="M370.59,128.11 Q370.59,125.11 374.82,125.11 Q379.04,125.11 379.04,128.11 L377.69,136.62 Q377.69,139.62 374.82,139.62 Q371.94,139.62 371.94,136.62 Z" fill="#333" opacity="0.95"/><path d="M382.6,128.88 Q382.6,125.88 387.22,125.88 Q391.84,125.88 391.84,128.88 L390.36,136.22 Q390.36,139.22 387.22,139.22 Q384.07,139.22 384.07,136.22 Z" fill="#333" opacity="0.95"/><path d="M395.6,129.78 Q395.6,126.78 399.69,126.78 Q403.77,126.78 403.77,129.78 L402.47,136.75 Q402.47,139.75 399.69,139.75 Q396.91,139.75 396.91,136.75 Z" fill="#333" opacity="0.95"/><path d="M408.76,129.83 Q408.76,126.83 413.21,126.83 Q417.65,126.83 417.65,129.83 L416.23,136.96 Q416.23,139.96 413.21,139.96 Q410.18,139.96 410.18,136.96 Z" fill="#333" opacity="0.95"/><path d="M420.92,128.67 Q420.92,125.67 425.31,125.67 Q429.71,125.67 429.71,128.67 L428.3,135.58 Q428.3,138.58 425.31,138.58 Q422.32,138.58 422.32,135.58 Z" fill="#333" opacity="0.95"/><path d="M433.9,128.97 Q433.9,125.97 438.18,125.97 Q442.46,125.97 442.46,128.97 L441.09,135.75 Q441.09,138.75 438.18,138.75 Q435.27,138.75 435.27,135.75 Z" fill="#333" opacity="0.95"/><path d="M446.98,128.13 Q446.98,125.13 451.51,125.13 Q456.04,125.13 456.04,128.13 L454.59,137.03 Q454.59,140.03 451.51,140.03 Q448.43,140.03 448.43,137.03 Z" fill="#333" opacity="0.95"/><path d="M459.6,128.51 Q459.6,125.51 463.96,125.51 Q468.31,125.51 468.31,128.51 L466.92,136.44 Q466.92,139.44 463.96,139.44 Q461,139.44 461,136.44 Z" fill="#333" opacity="0.95"/><path d="M473.4,128.54 Q473.4,125.54 477.37,125.54 Q481.34,125.54 481.34,128.54 L480.07,135.82 Q480.07,138.82 477.37,138.82 Q474.67,138.82 474.67,135.82 Z" fill="#333" opacity="0.95"/><path d="M485.63,128.19 Q485.63,125.19 490.08,125.19 Q494.54,125.19 494.54,128.19 L493.11,136.41 Q493.11,139.41 490.08,139.41 Q487.05,139.41 487.05,136.41 Z" fill="#333" opacity="0.95"/><path d="M498.24,129.02 Q498.24,126.02 502.44,126.02 Q506.64,126.02 506.64,129.02 L505.29,136.22 Q505.29,139.22 502.44,139.22 Q499.59,139.22 499.59,136.22 Z" fill="#333" opacity="0.95"/><path d="M510.78,127.63 Q510.78,124.63 515.73,124.63 Q520.68,124.63 520.68,127.63 L519.1,136.43 Q519.1,139.43 515.73,139.43 Q512.37,139.43 512.37,136.43 Z" fill="#333" opacity="0.95"/><path d="M524.64,128.45 Q524.64,125.45 528.58,125.45 Q532.51,125.45 532.51,128.45 L531.25,136.88 Q531.25,139.88 528.58,139.88 Q525.9,139.88 525.9,136.88 Z" fill="#333" opacity="0.95"/><path d="M536.35,130.03 Q536.35,127.03 540.89,127.03 Q545.44,127.03 545.44,130.03 L543.98,136.57 Q543.98,139.57 540.89,139.57 Q537.8,139.57 537.8,136.57 Z" fill="#333" opacity="0.95"/><path d="M344.36,145.59 Q344.36,142.59 349.17,142.59 Q353.98,142.59 353.98,145.59 L352.44,154.41 Q352.44,157.41 349.17,157.41 Q345.9,157.41 345.9,154.41 Z" fill="#333" opacity="0.95"/><path d="M357.52,147.13 Q357.52,144.13 361.54,144.13 Q365.56,144.13 365.56,147.13 L364.28,154.08 Q364.28,157.08 361.54,157.08 Q358.81,157.08 358.81,154.08 Z" fill="#333" opacity="0.95"/><path d="M369.55,146.49 Q369.55,143.49 374.49,143.49 Q379.42,143.49 379.42,146.49 L377.84,154.95 Q377.84,157.95 374.49,157.95 Q371.13,157.95 371.13,154.95 Z" fill="#333" opacity="0.95"/><path d="M382.3,146.74 Q382.3,143.74 386.7,143.74 Q391.1,143.74 391.1,146.74 L389.69,154.75 Q389.69,157.75 386.7,157.75 Q383.71,157.75 383.71,154.75 Z" fill="#333" opacity="0.95"/><path d="M395.97,145.58 Q395.97,142.58 400.13,142.58 Q404.28,142.58 404.28,145.58 L402.95,154.57 Q402.95,157.57 400.13,157.57 Q397.3,157.57 397.3,154.57 Z" fill="#333" opacity="0.95"/><path d="M408.9,147.02 Q408.9,144.02 412.94,144.02 Q416.98,144.02 416.98,147.02 L415.68,154.23 Q415.68,157.23 412.94,157.23 Q410.19,157.23 410.19,154.23 Z" fill="#333" opacity="0.95"/><path d="M421.62,147.1 Q421.62,144.1 425.64,144.1 Q429.67,144.1 429.67,147.1 L428.38,153.83 Q428.38,156.83 425.64,156.83 Q422.91,156.83 422.91,153.83 Z" fill="#333" opacity="0.95"/><path d="M434.21,146.1 Q434.21,143.1 438.54,143.1 Q442.87,143.1 442.87,146.1 L441.48,153.23 Q441.48,156.23 438.54,156.23 Q435.6,156.23 435.6,153.23 Z" fill="#333" opacity="0.95"/><path d="M447.49,146.67 Q447.49,143.67 451.72,143.67 Q455.95,143.67 455.95,146.67 L454.6,154.44 Q454.6,157.44 451.72,157.44 Q448.84,157.44 448.84,154.44 Z" fill="#333" opacity="0.95"/><path d="M458.94,146.09 Q458.94,143.09 463.81,143.09 Q468.69,143.09 468.69,146.09 L467.13,153.9 Q467.13,156.9 463.81,156.9 Q460.5,156.9 460.5,153.9 Z" fill="#333" opacity="0.95"/><path d="M471.75,145.47 Q471.75,142.47 476.71,142.47 Q481.66,142.47 481.66,145.47 L480.08,153.89 Q480.08,156.89 476.71,156.89 Q473.34,156.89 473.34,153.89 Z" fill="#333" opacity="0.95"/><path d="M485.19,145.84 Q485.19,142.84 489.64,142.84 Q494.09,142.84 494.09,145.84 L492.66,154.18 Q492.66,157.18 489.64,157.18 Q486.62,157.18 486.62,154.18 Z" fill="#333" opacity="0.95"/><path d="M497.63,145.2 Q497.63,142.2 502.27,142.2 Q506.9,142.2 506.9,145.2 L505.42,154.2 Q505.42,157.2 502.27,157.2 Q499.12,157.2 499.12,154.2 Z" fill="#333" opacity="0.95"/><path d="M511.27,146.1 Q511.27,143.1 515.54,143.1 Q519.81,143.1 519.81,146.1 L518.45,153.76 Q518.45,156.76 515.54,156.76 Q512.64,156.76 512.64,153.76 Z" fill="#333" opacity="0.95"/><path d="M523.41,145.68 Q523.41,142.68 528.18,142.68 Q532.96,142.68 532.96,145.68 L531.43,154.19 Q531.43,157.19 528.18,157.19 Q524.94,157.19 524.94,154.19 Z" fill="#333" opacity="0.95"/><path d="M536.35,146.29 Q536.35,143.29 541.32,143.29 Q546.29,143.29 546.29,146.29 L544.7,153.66 Q544.7,156.66 541.32,156.66 Q537.94,156.66 537.94,153.66 Z" fill="#333" opacity="0.95"/><path d="M344.35,164.35 Q344.35,161.35 348.49,161.35 Q352.64,161.35 352.64,164.35 L351.31,172.91 Q351.31,175.91 348.49,175.91 Q345.68,175.91 345.68,172.91 Z" fill="#333" opacity="0.95"/><path d="M356.8,164.36 Q356.8,161.36 361.24,161.36 Q365.69,161.36 365.69,164.36 L364.27,171.4 Q364.27,174.4 361.24,174.4 Q358.22,174.4 358.22,171.4 Z" fill="#333" opacity="0.95"/><path d="M369.35,163.32 Q369.35,160.32 373.99,160.32 Q378.62,160.32 378.62,163.32 L377.14,172.38 Q377.14,175.38 373.99,175.38 Q370.84,175.38 370.84,172.38 Z" fill="#333" opacity="0.95"/><path d="M382.67,162.81 Q382.67,159.81 386.8,159.81 Q390.94,159.81 390.94,162.81 L389.61,171.94 Q389.61,174.94 386.8,174.94 Q383.99,174.94 383.99,171.94 Z" fill="#333" opacity="0.95"/><path d="M396.41,164.74 Q396.41,161.74 400.38,161.74 Q404.34,161.74 404.34,164.74 L403.08,172.33 Q403.08,175.33 400.38,175.33 Q397.68,175.33 397.68,172.33 Z" fill="#333" opacity="0.95"/><path d="M408.53,163.16 Q408.53,160.16 413.23,160.16 Q417.94,160.16 417.94,163.16 L416.43,172.36 Q416.43,175.36 413.23,175.36 Q410.03,175.36 410.03,172.36 Z" fill="#333" opacity="0.95"/><path d="M421.76,162.83 Q421.76,159.83 425.87,159.83 Q429.97,159.83 429.97,162.83 L428.66,171.86 Q428.66,174.86 425.87,174.86 Q423.08,174.86 423.08,171.86 Z" fill="#333" opacity="0.95"/><path d="M433.68,163.99 Q433.68,160.99 438.31,160.99 Q442.94,160.99 442.94,163.99 L441.46,171.54 Q441.46,174.54 438.31,174.54 Q435.16,174.54 435.16,171.54 Z" fill="#333" opacity="0.95"/><path d="M446.95,164.52 Q446.95,161.52 451.04,161.52 Q455.13,161.52 455.13,164.52 L453.82,171.07 Q453.82,174.07 451.04,174.07 Q448.26,174.07 448.26,171.07 Z" fill="#333" opacity="0.95"/><path d="M459.59,164.16 Q459.59,161.16 464.54,161.16 Q469.5,161.16 469.5,164.16 L467.91,171.02 Q467.91,174.02 464.54,174.02 Q461.18,174.02 461.18,171.02 Z" fill="#333" opacity="0.95"/><path d="M472.93,163.54 Q472.93,160.54 477.22,160.54 Q481.51,160.54 481.51,163.54 L480.14,172.27 Q480.14,175.27 477.22,175.27 Q474.3,175.27 474.3,172.27 Z" fill="#333" opacity="0.95"/><path d="M485.64,164.69 Q485.64,161.69 489.59,161.69 Q493.55,161.69 493.55,164.69 L492.28,172.49 Q492.28,175.49 489.59,175.49 Q486.9,175.49 486.9,172.49 Z" fill="#333" opacity="0.95"/><path d="M498.82,163.59 Q498.82,160.59 502.94,160.59 Q507.05,160.59 507.05,163.59 L505.73,171.1 Q505.73,174.1 502.94,174.1 Q500.14,174.1 500.14,171.1 Z" fill="#333" opacity="0.95"/><path d="M511.27,163.01 Q511.27,160.01 515.63,160.01 Q519.98,160.01 519.98,163.01 L518.59,171.71 Q518.59,174.71 515.63,174.71 Q512.67,174.71 512.67,171.71 Z" fill="#333" opacity="0.95"/><path d="M524.66,164.31 Q524.66,161.31 528.6,161.31 Q532.54,161.31 532.54,164.31 L531.28,171.01 Q531.28,174.01 528.6,174.01 Q525.92,174.01 525.92,171.01 Z" fill="#333" opacity="0.95"/><path d="M536.12,163.22 Q536.12,160.22 540.84,160.22 Q545.56,160.22 545.56,163.22 L544.05,172.15 Q544.05,175.15 540.84,175.15 Q537.63,175.15 537.63,172.15 Z" fill="#333" opacity="0.95"/><path d="M343.37,219.31 Q343.37,216.31 348.79,216.31 Q354.22,216.31 354.22,219.31 L352.67,226.71 Q352.67,229.71 348.79,229.71 Q344.92,229.71 344.92,226.71 Z" fill="#232323"/><path d="M356.15,219.32 Q356.15,216.32 361.37,216.32 Q366.6,216.32 366.6,219.32 L365.1,226.72 Q365.1,229.72 361.37,229.72 Q357.64,229.72 357.64,226.72 Z" fill="#232323"/><path d="M369.92,219.83 Q369.92,216.83 374.54,216.83 Q379.17,216.83 379.17,219.83 L377.85,227.23 Q377.85,230.23 374.54,230.23 Q371.24,230.23 371.24,227.23 Z" fill="#232323"/><path d="M382.36,219.12 Q382.36,216.12 387.51,216.12 Q392.67,216.12 392.67,219.12 L391.19,226.52 Q391.19,229.52 387.51,229.52 Q383.83,229.52 383.83,226.52 Z" fill="#232323"/><path d="M395.14,219.87 Q395.14,216.87 399.96,216.87 Q404.78,216.87 404.78,219.87 L403.4,227.27 Q403.4,230.27 399.96,230.27 Q396.52,230.27 396.52,227.27 Z" fill="#232323"/><path d="M407.29,219.3 Q407.29,216.3 412.71,216.3 Q418.13,216.3 418.13,219.3 L416.58,226.7 Q416.58,229.7 412.71,229.7 Q408.84,229.7 408.84,226.7 Z" fill="#232323"/><path d="M420.63,219.84 Q420.63,216.84 425.61,216.84 Q430.6,216.84 430.6,219.84 L429.17,227.24 Q429.17,230.24 425.61,230.24 Q422.06,230.24 422.06,227.24 Z" fill="#232323"/><path d="M433.91,219.69 Q433.91,216.69 438.68,216.69 Q443.46,216.69 443.46,219.69 L442.09,227.09 Q442.09,230.09 438.68,230.09 Q435.27,230.09 435.27,227.09 Z" fill="#232323"/><path d="M446.17,219.59 Q446.17,216.59 451.48,216.59 Q456.79,216.59 456.79,219.59 L455.27,226.99 Q455.27,229.99 451.48,229.99 Q447.68,229.99 447.68,226.99 Z" fill="#232323"/><path d="M484.68,219.39 Q484.68,216.39 489.58,216.39 Q494.47,216.39 494.47,219.39 L493.07,226.79 Q493.07,229.79 489.58,229.79 Q486.08,229.79 486.08,226.79 Z" fill="#232323"/><path d="M496.93,219.26 Q496.93,216.26 502.2,216.26 Q507.48,216.26 507.48,219.26 L505.97,226.66 Q505.97,229.66 502.2,229.66 Q498.43,229.66 498.43,226.66 Z" fill="#232323"/><path d="M509.91,219.15 Q509.91,216.15 515.16,216.15 Q520.41,216.15 520.41,219.15 L518.91,226.55 Q518.91,229.55 515.16,229.55 Q511.41,229.55 511.41,226.55 Z" fill="#232323"/><path d="M523.57,219.36 Q523.57,216.36 528.22,216.36 Q532.87,216.36 532.87,219.36 L531.54,226.76 Q531.54,229.76 528.22,229.76 Q524.9,229.76 524.9,226.76 Z" fill="#232323"/><path d="M535.86,219.89 Q535.86,216.89 541.31,216.89 Q546.75,216.89 546.75,219.89 L545.19,227.29 Q545.19,230.29 541.31,230.29 Q537.42,230.29 537.42,227.29 Z" fill="#232323"/><path d="M343.52,235.93 Q343.52,232.93 348.37,232.93 Q353.21,232.93 353.21,235.93 L351.83,243.33 Q351.83,246.33 348.37,246.33 Q344.91,246.33 344.91,243.33 Z" fill="#232323"/><path d="M356.65,236.21 Q356.65,233.21 361.69,233.21 Q366.73,233.21 366.73,236.21 L365.29,243.61 Q365.29,246.61 361.69,246.61 Q358.09,246.61 358.09,243.61 Z" fill="#232323"/><path d="M369.46,236.35 Q369.46,233.35 374.27,233.35 Q379.09,233.35 379.09,236.35 L377.71,243.75 Q377.71,246.75 374.27,246.75 Q370.83,246.75 370.83,243.75 Z" fill="#232323"/><path d="M382.17,236.53 Q382.17,233.53 387.36,233.53 Q392.54,233.53 392.54,236.53 L391.06,243.93 Q391.06,246.93 387.36,246.93 Q383.65,246.93 383.65,243.93 Z" fill="#232323"/><path d="M394.5,236.52 Q394.5,233.52 399.68,233.52 Q404.86,233.52 404.86,236.52 L403.38,243.92 Q403.38,246.92 399.68,246.92 Q395.98,246.92 395.98,243.92 Z" fill="#232323"/><path d="M407.99,236.15 Q407.99,233.15 412.85,233.15 Q417.72,233.15 417.72,236.15 L416.33,243.55 Q416.33,246.55 412.85,246.55 Q409.38,246.55 409.38,243.55 Z" fill="#232323"/><path d="M420.14,236.05 Q420.14,233.05 425.38,233.05 Q430.62,233.05 430.62,236.05 L429.12,243.45 Q429.12,246.45 425.38,246.45 Q421.64,246.45 421.64,243.45 Z" fill="#232323"/><path d="M433.34,236.56 Q433.34,233.56 438.16,233.56 Q442.99,233.56 442.99,236.56 L441.61,243.96 Q441.61,246.96 438.16,246.96 Q434.72,246.96 434.72,243.96 Z" fill="#232323"/><path d="M446.02,236.17 Q446.02,233.17 451.12,233.17 Q456.23,233.17 456.23,236.17 L454.77,243.57 Q454.77,246.57 451.12,246.57 Q447.47,246.57 447.47,243.57 Z" fill="#232323"/><path d="M458.63,236.04 Q458.63,233.04 464.09,233.04 Q469.54,233.04 469.54,236.04 L467.98,243.44 Q467.98,246.44 464.09,246.44 Q460.19,246.44 460.19,243.44 Z" fill="#232323"/><path d="M484.54,236.64 Q484.54,233.64 489.84,233.64 Q495.14,233.64 495.14,236.64 L493.63,244.04 Q493.63,247.04 489.84,247.04 Q486.06,247.04 486.06,244.04 Z" fill="#232323"/><path d="M497.81,236.51 Q497.81,233.51 502.52,233.51 Q507.23,233.51 507.23,236.51 L505.88,243.91 Q505.88,246.91 502.52,246.91 Q499.16,246.91 499.16,243.91 Z" fill="#232323"/><path d="M510.37,235.88 Q510.37,232.88 515.69,232.88 Q521.02,232.88 521.02,235.88 L519.5,243.28 Q519.5,246.28 515.69,246.28 Q511.89,246.28 511.89,243.28 Z" fill="#232323"/><path d="M523.01,236 Q523.01,233 527.88,233 Q532.74,233 532.74,236 L531.35,243.4 Q531.35,246.4 527.88,246.4 Q524.4,246.4 524.4,243.4 Z" fill="#232323"/><path d="M535.63,236.59 Q535.63,233.59 541.07,233.59 Q546.5,233.59 546.5,236.59 L544.95,243.99 Q544.95,246.99 541.07,246.99 Q537.18,246.99 537.18,243.99 Z" fill="#232323"/><path d="M344.06,252.96 Q344.06,249.96 348.99,249.96 Q353.93,249.96 353.93,252.96 L352.52,260.36 Q352.52,263.36 348.99,263.36 Q345.47,263.36 345.47,260.36 Z" fill="#232323"/><path d="M356.9,253.36 Q356.9,250.36 361.74,250.36 Q366.58,250.36 366.58,253.36 L365.2,260.76 Q365.2,263.76 361.74,263.76 Q358.29,263.76 358.29,260.76 Z" fill="#232323"/><path d="M369.71,253.1 Q369.71,250.1 374.42,250.1 Q379.13,250.1 379.13,253.1 L377.78,260.5 Q377.78,263.5 374.42,263.5 Q371.05,263.5 371.05,260.5 Z" fill="#232323"/><path d="M382.25,252.71 Q382.25,249.71 387.05,249.71 Q391.86,249.71 391.86,252.71 L390.49,260.11 Q390.49,263.11 387.05,263.11 Q383.62,263.11 383.62,260.11 Z" fill="#232323"/><path d="M394.99,253.08 Q394.99,250.08 399.78,250.08 Q404.58,250.08 404.58,253.08 L403.21,260.48 Q403.21,263.48 399.78,263.48 Q396.36,263.48 396.36,260.48 Z" fill="#232323"/><path d="M407.4,252.61 Q407.4,249.61 412.56,249.61 Q417.73,249.61 417.73,252.61 L416.25,260.01 Q416.25,263.01 412.56,263.01 Q408.87,263.01 408.87,260.01 Z" fill="#232323"/><path d="M420.87,252.75 Q420.87,249.75 425.76,249.75 Q430.66,249.75 430.66,252.75 L429.26,260.15 Q429.26,263.15 425.76,263.15 Q422.27,263.15 422.27,260.15 Z" fill="#232323"/><path d="M433.32,253.24 Q433.32,250.24 438.2,250.24 Q443.08,250.24 443.08,253.24 L441.69,260.64 Q441.69,263.64 438.2,263.64 Q434.72,263.64 434.72,260.64 Z" fill="#232323"/><path d="M445.83,252.68 Q445.83,249.68 450.91,249.68 Q455.99,249.68 455.99,252.68 L454.54,260.08 Q454.54,263.08 450.91,263.08 Q447.28,263.08 447.28,260.08 Z" fill="#232323"/><path d="M459.17,253.11 Q459.17,250.11 464.12,250.11 Q469.07,250.11 469.07,253.11 L467.66,260.51 Q467.66,263.51 464.12,263.51 Q460.58,263.51 460.58,260.51 Z" fill="#232323"/><path d="M484.75,253.16 Q484.75,250.16 489.45,250.16 Q494.15,250.16 494.15,253.16 L492.81,260.56 Q492.81,263.56 489.45,263.56 Q486.1,263.56 486.1,260.56 Z" fill="#232323"/><path d="M497.4,252.85 Q497.4,249.85 502.37,249.85 Q507.33,249.85 507.33,252.85 L505.91,260.25 Q505.91,263.25 502.37,263.25 Q498.82,263.25 498.82,260.25 Z" fill="#232323"/><path d="M509.79,253.05 Q509.79,250.05 515.21,250.05 Q520.63,250.05 520.63,253.05 L519.08,260.45 Q519.08,263.45 515.21,263.45 Q511.34,263.45 511.34,260.45 Z" fill="#232323"/><path d="M523.19,253.29 Q523.19,250.29 528.11,250.29 Q533.03,250.29 533.03,253.29 L531.63,260.69 Q531.63,263.69 528.11,263.69 Q524.6,263.69 524.6,260.69 Z" fill="#232323"/><path d="M535.43,252.76 Q535.43,249.76 540.89,249.76 Q546.35,249.76 546.35,252.76 L544.79,260.16 Q544.79,263.16 540.89,263.16 Q536.99,263.16 536.99,260.16 Z" fill="#232323"/><path d="M343.23,269.35 Q343.23,266.35 348.46,266.35 Q353.69,266.35 353.69,269.35 L352.2,276.75 Q352.2,279.75 348.46,279.75 Q344.73,279.75 344.73,276.75 Z" fill="#232323"/><path d="M356.08,270.01 Q356.08,267.01 361.46,267.01 Q366.84,267.01 366.84,270.01 L365.3,277.41 Q365.3,280.41 361.46,280.41 Q357.62,280.41 357.62,277.41 Z" fill="#232323"/><path d="M369.69,269.72 Q369.69,266.72 374.65,266.72 Q379.61,266.72 379.61,269.72 L378.19,277.12 Q378.19,280.12 374.65,280.12 Q371.1,280.12 371.1,277.12 Z" fill="#232323"/><path d="M382.02,269.79 Q382.02,266.79 386.77,266.79 Q391.53,266.79 391.53,269.79 L390.17,277.19 Q390.17,280.19 386.77,280.19 Q383.37,280.19 383.37,277.19 Z" fill="#232323"/><path d="M395.15,269.42 Q395.15,266.42 400.31,266.42 Q405.47,266.42 405.47,269.42 L403.99,276.82 Q403.99,279.82 400.31,279.82 Q396.62,279.82 396.62,276.82 Z" fill="#232323"/><path d="M407.55,269.75 Q407.55,266.75 412.7,266.75 Q417.84,266.75 417.84,269.75 L416.37,277.15 Q416.37,280.15 412.7,280.15 Q409.02,280.15 409.02,277.15 Z" fill="#232323"/><path d="M420.7,269.77 Q420.7,266.77 425.45,266.77 Q430.19,266.77 430.19,269.77 L428.83,277.17 Q428.83,280.17 425.45,280.17 Q422.06,280.17 422.06,277.17 Z" fill="#232323"/><path d="M432.73,269.74 Q432.73,266.74 438.13,266.74 Q443.52,266.74 443.52,269.74 L441.98,277.14 Q441.98,280.14 438.13,280.14 Q434.27,280.14 434.27,277.14 Z" fill="#232323"/><path d="M446.34,269.51 Q446.34,266.51 451.63,266.51 Q456.93,266.51 456.93,269.51 L455.42,276.91 Q455.42,279.91 451.63,279.91 Q447.85,279.91 447.85,276.91 Z" fill="#232323"/><path d="M459.71,270.13 Q459.71,267.13 464.43,267.13 Q469.16,267.13 469.16,270.13 L467.81,277.53 Q467.81,280.53 464.43,280.53 Q461.06,280.53 461.06,277.53 Z" fill="#232323"/><path d="M484.34,270.09 Q484.34,267.09 489.36,267.09 Q494.39,267.09 494.39,270.09 L492.95,277.49 Q492.95,280.49 489.36,280.49 Q485.77,280.49 485.77,277.49 Z" fill="#232323"/><path d="M497.92,269.85 Q497.92,266.85 502.86,266.85 Q507.81,266.85 507.81,269.85 L506.4,277.25 Q506.4,280.25 502.86,280.25 Q499.33,280.25 499.33,277.25 Z" fill="#232323"/><path d="M509.78,269.98 Q509.78,266.98 515.09,266.98 Q520.4,266.98 520.4,269.98 L518.88,277.38 Q518.88,280.38 515.09,280.38 Q511.29,280.38 511.29,277.38 Z" fill="#232323"/><path d="M523.3,270.03 Q523.3,267.03 528.1,267.03 Q532.91,267.03 532.91,270.03 L531.54,277.43 Q531.54,280.43 528.1,280.43 Q524.67,280.43 524.67,277.43 Z" fill="#232323"/><path d="M535.43,269.52 Q535.43,266.52 540.75,266.52 Q546.06,266.52 546.06,269.52 L544.54,276.92 Q544.54,279.92 540.75,279.92 Q536.95,279.92 536.95,276.92 Z" fill="#232323"/><path d="M343.76,286.41 Q343.76,283.41 348.71,283.41 Q353.67,283.41 353.67,286.41 L352.25,293.81 Q352.25,296.81 348.71,296.81 Q345.17,296.81 345.17,293.81 Z" fill="#232323"/><path d="M356.59,286.68 Q356.59,283.68 361.32,283.68 Q366.04,283.68 366.04,286.68 L364.69,294.08 Q364.69,297.08 361.32,297.08 Q357.94,297.08 357.94,294.08 Z" fill="#232323"/><path d="M368.6,286.55 Q368.6,283.55 373.97,283.55 Q379.35,283.55 379.35,286.55 L377.81,293.95 Q377.81,296.95 373.97,296.95 Q370.13,296.95 370.13,293.95 Z" fill="#232323"/><path d="M381.53,286.77 Q381.53,283.77 386.79,283.77 Q392.05,283.77 392.05,286.77 L390.54,294.17 Q390.54,297.17 386.79,297.17 Q383.04,297.17 383.04,294.17 Z" fill="#232323"/><path d="M395.34,286.54 Q395.34,283.54 400.06,283.54 Q404.78,283.54 404.78,286.54 L403.43,293.94 Q403.43,296.94 400.06,296.94 Q396.69,296.94 396.69,293.94 Z" fill="#232323"/><path d="M407.5,286.44 Q407.5,283.44 412.64,283.44 Q417.79,283.44 417.79,286.44 L416.32,293.84 Q416.32,296.84 412.64,296.84 Q408.97,296.84 408.97,293.84 Z" fill="#232323"/><path d="M420.45,286.63 Q420.45,283.63 425.56,283.63 Q430.67,283.63 430.67,286.63 L429.21,294.03 Q429.21,297.03 425.56,297.03 Q421.91,297.03 421.91,294.03 Z" fill="#232323"/><path d="M433.4,286.12 Q433.4,283.12 438.39,283.12 Q443.39,283.12 443.39,286.12 L441.96,293.52 Q441.96,296.52 438.39,296.52 Q434.82,296.52 434.82,293.52 Z" fill="#232323"/><path d="M446.11,286.29 Q446.11,283.29 451.25,283.29 Q456.39,283.29 456.39,286.29 L454.92,293.69 Q454.92,296.69 451.25,296.69 Q447.58,296.69 447.58,293.69 Z" fill="#232323"/><path d="M459.04,286.47 Q459.04,283.47 464.3,283.47 Q469.57,283.47 469.57,286.47 L468.06,293.87 Q468.06,296.87 464.3,296.87 Q460.55,296.87 460.55,293.87 Z" fill="#232323"/><path d="M484.93,286.19 Q484.93,283.19 489.7,283.19 Q494.47,283.19 494.47,286.19 L493.11,293.59 Q493.11,296.59 489.7,296.59 Q486.29,296.59 486.29,293.59 Z" fill="#232323"/><path d="M497.76,286.17 Q497.76,283.17 502.48,283.17 Q507.21,283.17 507.21,286.17 L505.86,293.57 Q505.86,296.57 502.48,296.57 Q499.11,296.57 499.11,293.57 Z" fill="#232323"/><path d="M510.38,286.13 Q510.38,283.13 515.37,283.13 Q520.36,283.13 520.36,286.13 L518.93,293.53 Q518.93,296.53 515.37,296.53 Q511.8,296.53 511.8,293.53 Z" fill="#232323"/><path d="M522.69,286.69 Q522.69,283.69 527.85,283.69 Q533,283.69 533,286.69 L531.53,294.09 Q531.53,297.09 527.85,297.09 Q524.16,297.09 524.16,294.09 Z" fill="#232323"/><path d="M535.74,286.14 Q535.74,283.14 541.01,283.14 Q546.28,283.14 546.28,286.14 L544.78,293.54 Q544.78,296.54 541.01,296.54 Q537.24,296.54 537.24,293.54 Z" fill="#232323"/><path d="M343.56,303.61 Q343.56,300.61 348.6,300.61 Q353.65,300.61 353.65,303.61 L352.2,311.01 Q352.2,314.01 348.6,314.01 Q345,314.01 345,311.01 Z" fill="#232323"/><path d="M357.07,303.65 Q357.07,300.65 361.81,300.65 Q366.54,300.65 366.54,303.65 L365.19,311.05 Q365.19,314.05 361.81,314.05 Q358.42,314.05 358.42,311.05 Z" fill="#232323"/><path d="M369.36,303 Q369.36,300 374.59,300 Q379.83,300 379.83,303 L378.33,310.4 Q378.33,313.4 374.59,313.4 Q370.85,313.4 370.85,310.4 Z" fill="#232323"/><path d="M381.71,303.62 Q381.71,300.62 387.15,300.62 Q392.6,300.62 392.6,303.62 L391.04,311.02 Q391.04,314.02 387.15,314.02 Q383.26,314.02 383.26,311.02 Z" fill="#232323"/><path d="M394.32,303.48 Q394.32,300.48 399.71,300.48 Q405.1,300.48 405.1,303.48 L403.56,310.88 Q403.56,313.88 399.71,313.88 Q395.86,313.88 395.86,310.88 Z" fill="#232323"/><path d="M407.05,303.13 Q407.05,300.13 412.45,300.13 Q417.85,300.13 417.85,303.13 L416.31,310.53 Q416.31,313.53 412.45,313.53 Q408.59,313.53 408.59,310.53 Z" fill="#232323"/><path d="M420.09,303.57 Q420.09,300.57 425.35,300.57 Q430.6,300.57 430.6,303.57 L429.1,310.97 Q429.1,313.97 425.35,313.97 Q421.59,313.97 421.59,310.97 Z" fill="#232323"/><path d="M433.84,302.96 Q433.84,299.96 438.69,299.96 Q443.54,299.96 443.54,302.96 L442.16,310.36 Q442.16,313.36 438.69,313.36 Q435.23,313.36 435.23,310.36 Z" fill="#232323"/><path d="M446.55,303.02 Q446.55,300.02 451.6,300.02 Q456.64,300.02 456.64,303.02 L455.2,310.42 Q455.2,313.42 451.6,313.42 Q447.99,313.42 447.99,310.42 Z" fill="#232323"/><path d="M459.24,303.11 Q459.24,300.11 464.08,300.11 Q468.93,300.11 468.93,303.11 L467.54,310.51 Q467.54,313.51 464.08,313.51 Q460.63,313.51 460.63,310.51 Z" fill="#232323"/><path d="M484.81,302.98 Q484.81,299.98 489.47,299.98 Q494.12,299.98 494.12,302.98 L492.79,310.38 Q492.79,313.38 489.47,313.38 Q486.14,313.38 486.14,310.38 Z" fill="#232323"/><path d="M497.28,303.57 Q497.28,300.57 502.68,300.57 Q508.09,300.57 508.09,303.57 L506.55,310.97 Q506.55,313.97 502.68,313.97 Q498.82,313.97 498.82,310.97 Z" fill="#232323"/><path d="M510.83,302.94 Q510.83,299.94 515.59,299.94 Q520.35,299.94 520.35,302.94 L518.99,310.34 Q518.99,313.34 515.59,313.34 Q512.19,313.34 512.19,310.34 Z" fill="#232323"/><path d="M523.22,303.14 Q523.22,300.14 528.29,300.14 Q533.35,300.14 533.35,303.14 L531.91,310.54 Q531.91,313.54 528.29,313.54 Q524.67,313.54 524.67,310.54 Z" fill="#232323"/><path d="M535.69,303.31 Q535.69,300.31 541.04,300.31 Q546.4,300.31 546.4,303.31 L544.87,310.71 Q544.87,313.71 541.04,313.71 Q537.22,313.71 537.22,310.71 Z" fill="#232323"/><path d="M343.02,320.39 Q343.02,317.39 348.38,317.39 Q353.75,317.39 353.75,320.39 L352.21,327.79 Q352.21,330.79 348.38,330.79 Q344.55,330.79 344.55,327.79 Z" fill="#232323"/><path d="M356.29,320.24 Q356.29,317.24 361.44,317.24 Q366.58,317.24 366.58,320.24 L365.11,327.64 Q365.11,330.64 361.44,330.64 Q357.76,330.64 357.76,327.64 Z" fill="#232323"/><path d="M369.89,320.06 Q369.89,317.06 374.73,317.06 Q379.57,317.06 379.57,320.06 L378.19,327.46 Q378.19,330.46 374.73,330.46 Q371.27,330.46 371.27,327.46 Z" fill="#232323"/><path d="M382.45,319.95 Q382.45,316.95 387.37,316.95 Q392.29,316.95 392.29,319.95 L390.89,327.35 Q390.89,330.35 387.37,330.35 Q383.86,330.35 383.86,327.35 Z" fill="#232323"/><path d="M395.41,319.64 Q395.41,316.64 400.17,316.64 Q404.94,316.64 404.94,319.64 L403.58,327.04 Q403.58,330.04 400.17,330.04 Q396.77,330.04 396.77,327.04 Z" fill="#232323"/><path d="M407.29,320.11 Q407.29,317.11 412.6,317.11 Q417.91,317.11 417.91,320.11 L416.39,327.51 Q416.39,330.51 412.6,330.51 Q408.81,330.51 408.81,327.51 Z" fill="#232323"/><path d="M420.24,320.13 Q420.24,317.13 425.69,317.13 Q431.14,317.13 431.14,320.13 L429.58,327.53 Q429.58,330.53 425.69,330.53 Q421.8,330.53 421.8,327.53 Z" fill="#232323"/><path d="M433.16,319.63 Q433.16,316.63 438.04,316.63 Q442.92,316.63 442.92,319.63 L441.53,327.03 Q441.53,330.03 438.04,330.03 Q434.55,330.03 434.55,327.03 Z" fill="#232323"/><path d="M446.61,319.95 Q446.61,316.95 451.35,316.95 Q456.1,316.95 456.1,319.95 L454.74,327.35 Q454.74,330.35 451.35,330.35 Q447.96,330.35 447.96,327.35 Z" fill="#232323"/><path d="M459.35,319.71 Q459.35,316.71 464.4,316.71 Q469.45,316.71 469.45,319.71 L468,327.11 Q468,330.11 464.4,330.11 Q460.79,330.11 460.79,327.11 Z" fill="#232323"/><path d="M485.03,319.62 Q485.03,316.62 489.84,316.62 Q494.65,316.62 494.65,319.62 L493.28,327.02 Q493.28,330.02 489.84,330.02 Q486.41,330.02 486.41,327.02 Z" fill="#232323"/><path d="M497.8,319.69 Q497.8,316.69 502.42,316.69 Q507.05,316.69 507.05,319.69 L505.73,327.09 Q505.73,330.09 502.42,330.09 Q499.12,330.09 499.12,327.09 Z" fill="#232323"/><path d="M510.22,320.07 Q510.22,317.07 515.14,317.07 Q520.06,317.07 520.06,320.07 L518.65,327.47 Q518.65,330.47 515.14,330.47 Q511.63,330.47 511.63,327.47 Z" fill="#232323"/><path d="M522.83,320.1 Q522.83,317.1 527.94,317.1 Q533.06,317.1 533.06,320.1 L531.6,327.5 Q531.6,330.5 527.94,330.5 Q524.29,330.5 524.29,327.5 Z" fill="#232323"/><path d="M535.69,320.35 Q535.69,317.35 540.71,317.35 Q545.73,317.35 545.73,320.35 L544.29,327.75 Q544.29,330.75 540.71,330.75 Q537.12,330.75 537.12,327.75 Z" fill="#232323"/><path d="M343.59,336.43 Q343.59,333.43 348.42,333.43 Q353.24,333.43 353.24,336.43 L351.87,343.83 Q351.87,346.83 348.42,346.83 Q344.97,346.83 344.97,343.83 Z" fill="#232323"/><path d="M356.66,336.98 Q356.66,333.98 361.82,333.98 Q366.97,333.98 366.97,336.98 L365.5,344.38 Q365.5,347.38 361.82,347.38 Q358.13,347.38 358.13,344.38 Z" fill="#232323"/><path d="M369.19,336.36 Q369.19,333.36 374.15,333.36 Q379.11,333.36 379.11,336.36 L377.69,343.76 Q377.69,346.76 374.15,346.76 Q370.61,346.76 370.61,343.76 Z" fill="#232323"/><path d="M382.05,336.63 Q382.05,333.63 387.21,333.63 Q392.37,333.63 392.37,336.63 L390.9,344.03 Q390.9,347.03 387.21,347.03 Q383.52,347.03 383.52,344.03 Z" fill="#232323"/><path d="M394.77,337.1 Q394.77,334.1 399.94,334.1 Q405.1,334.1 405.1,337.1 L403.62,344.5 Q403.62,347.5 399.94,347.5 Q396.25,347.5 396.25,344.5 Z" fill="#232323"/><path d="M407.36,337.07 Q407.36,334.07 412.6,334.07 Q417.83,334.07 417.83,337.07 L416.34,344.47 Q416.34,347.47 412.6,347.47 Q408.86,347.47 408.86,344.47 Z" fill="#232323"/><path d="M420.99,336.67 Q420.99,333.67 425.65,333.67 Q430.3,333.67 430.3,336.67 L428.97,344.07 Q428.97,347.07 425.65,347.07 Q422.32,347.07 422.32,344.07 Z" fill="#232323"/><path d="M433.27,336.97 Q433.27,333.97 438.09,333.97 Q442.91,333.97 442.91,336.97 L441.53,344.37 Q441.53,347.37 438.09,347.37 Q434.64,347.37 434.64,344.37 Z" fill="#232323"/><path d="M446.67,337.1 Q446.67,334.1 451.3,334.1 Q455.93,334.1 455.93,337.1 L454.61,344.5 Q454.61,347.5 451.3,347.5 Q447.99,347.5 447.99,344.5 Z" fill="#232323"/><path d="M459.1,336.84 Q459.1,333.84 463.84,333.84 Q468.58,333.84 468.58,336.84 L467.22,344.24 Q467.22,347.24 463.84,347.24 Q460.45,347.24 460.45,344.24 Z" fill="#232323"/><path d="M484.79,337 Q484.79,334 489.83,334 Q494.88,334 494.88,337 L493.44,344.4 Q493.44,347.4 489.83,347.4 Q486.23,347.4 486.23,344.4 Z" fill="#232323"/><path d="M497.62,336.59 Q497.62,333.59 502.39,333.59 Q507.15,333.59 507.15,336.59 L505.79,343.99 Q505.79,346.99 502.39,346.99 Q498.98,346.99 498.98,343.99 Z" fill="#232323"/><path d="M511.01,336.98 Q511.01,333.98 515.67,333.98 Q520.33,333.98 520.33,336.98 L519,344.38 Q519,347.38 515.67,347.38 Q512.34,347.38 512.34,344.38 Z" fill="#232323"/><path d="M522.56,337.03 Q522.56,334.03 527.79,334.03 Q533.01,334.03 533.01,337.03 L531.51,344.43 Q531.51,347.43 527.79,347.43 Q524.06,347.43 524.06,344.43 Z" fill="#232323"/><path d="M535.73,336.94 Q535.73,333.94 540.97,333.94 Q546.22,333.94 546.22,336.94 L544.72,344.34 Q544.72,347.34 540.97,347.34 Q537.23,347.34 537.23,344.34 Z" fill="#232323"/><rect x="469" y="214" width="14.5" height="136" fill="#6e6e6e"/><rect x="473.5" y="214" width="4" height="136" fill="#767676"/><ellipse cx="532" cy="158" rx="30" ry="22" fill="#666" opacity="0.35"/><rect x="349" y="171" width="202" height="44" fill="#5e5e5e"/><rect x="347.2" y="171" width="3" height="44" fill="#5c5c5c"/><rect x="353.7" y="171" width="3" height="44" fill="#7a7a7a"/><rect x="360.02" y="171" width="3" height="44" fill="#5c5c5c"/><rect x="366.52" y="171" width="3" height="44" fill="#7a7a7a"/><rect x="372.84" y="171" width="3" height="44" fill="#5c5c5c"/><rect x="379.34" y="171" width="3" height="44" fill="#7a7a7a"/><rect x="385.66" y="171" width="3" height="44" fill="#5c5c5c"/><rect x="392.16" y="171" width="3" height="44" fill="#7a7a7a"/><rect x="398.48" y="171" width="3" height="44" fill="#5c5c5c"/><rect x="404.98" y="171" width="3" height="44" fill="#7a7a7a"/><rect x="411.3" y="171" width="3" height="44" fill="#5c5c5c"/><rect x="417.8" y="171" width="3" height="44" fill="#7a7a7a"/><rect x="424.12" y="171" width="3" height="44" fill="#5c5c5c"/><rect x="430.62" y="171" width="3" height="44" fill="#7a7a7a"/><rect x="436.94" y="171" width="3" height="44" fill="#5c5c5c"/><rect x="443.44" y="171" width="3" height="44" fill="#7a7a7a"/><rect x="449.76" y="171" width="3" height="44" fill="#5c5c5c"/><rect x="456.26" y="171" width="3" height="44" fill="#7a7a7a"/><rect x="462.58" y="171" width="3" height="44" fill="#5c5c5c"/><rect x="469.08" y="171" width="3" height="44" fill="#7a7a7a"/><rect x="475.4" y="171" width="3" height="44" fill="#5c5c5c"/><rect x="481.9" y="171" width="3" height="44" fill="#7a7a7a"/><rect x="488.22" y="171" width="3" height="44" fill="#5c5c5c"/><rect x="494.72" y="171" width="3" height="44" fill="#7a7a7a"/><rect x="501.04" y="171" width="3" height="44" fill="#5c5c5c"/><rect x="507.54" y="171" width="3" height="44" fill="#7a7a7a"/><rect x="513.86" y="171" width="3" height="44" fill="#5c5c5c"/><rect x="520.36" y="171" width="3" height="44" fill="#7a7a7a"/><rect x="526.68" y="171" width="3" height="44" fill="#5c5c5c"/><rect x="533.18" y="171" width="3" height="44" fill="#7a7a7a"/><rect x="539.5" y="171" width="3" height="44" fill="#5c5c5c"/><rect x="546" y="171" width="3" height="44" fill="#7a7a7a"/><ellipse cx="440.4" cy="181.26" rx="1.89" ry="3.29" fill="#464646" opacity="0.6"/><ellipse cx="373.9" cy="208.54" rx="2.91" ry="2.53" fill="#505050" opacity="0.6"/><ellipse cx="359.61" cy="198.07" rx="2.15" ry="3.58" fill="#505050" opacity="0.6"/><ellipse cx="454.7" cy="182.88" rx="2.89" ry="3.79" fill="#505050" opacity="0.6"/><ellipse cx="366.26" cy="192.8" rx="1.89" ry="2.47" fill="#464646" opacity="0.6"/><ellipse cx="499.26" cy="210.73" rx="2.87" ry="2.38" fill="#505050" opacity="0.6"/><ellipse cx="427.52" cy="196.65" rx="2.86" ry="3.26" fill="#7e7e7e" opacity="0.6"/><ellipse cx="488.95" cy="199.27" rx="2.2" ry="3.68" fill="#505050" opacity="0.6"/><ellipse cx="489.92" cy="207.16" rx="2.93" ry="2.47" fill="#7e7e7e" opacity="0.6"/><ellipse cx="527.72" cy="204.36" rx="2.43" ry="2.16" fill="#7e7e7e" opacity="0.6"/><ellipse cx="532.98" cy="177.93" rx="1.67" ry="3.24" fill="#464646" opacity="0.6"/><ellipse cx="381.69" cy="212.07" rx="1.54" ry="2.08" fill="#505050" opacity="0.6"/><ellipse cx="488.91" cy="197.99" rx="1.6" ry="2.09" fill="#505050" opacity="0.6"/><ellipse cx="522.01" cy="203.23" rx="2.73" ry="3.64" fill="#464646" opacity="0.6"/><ellipse cx="529.04" cy="174.7" rx="2.92" ry="2.21" fill="#505050" opacity="0.6"/><ellipse cx="390.56" cy="176.59" rx="2.92" ry="3.82" fill="#464646" opacity="0.6"/><ellipse cx="501.26" cy="175.59" rx="2.45" ry="2.95" fill="#505050" opacity="0.6"/><ellipse cx="375.8" cy="204.47" rx="1.81" ry="2.64" fill="#505050" opacity="0.6"/><ellipse cx="434.6" cy="172.86" rx="2.9" ry="2.1" fill="#7e7e7e" opacity="0.6"/><ellipse cx="502.49" cy="209.32" rx="2.26" ry="3.7" fill="#505050" opacity="0.6"/><ellipse cx="473.89" cy="173.27" rx="1.55" ry="3.04" fill="#7e7e7e" opacity="0.6"/><ellipse cx="368.86" cy="191.23" rx="2.31" ry="2.43" fill="#464646" opacity="0.6"/><ellipse cx="523.17" cy="175.73" rx="1.76" ry="2" fill="#7e7e7e" opacity="0.6"/><ellipse cx="389.81" cy="203.25" rx="1.51" ry="2.98" fill="#464646" opacity="0.6"/><ellipse cx="448.28" cy="204.67" rx="2.95" ry="3.19" fill="#464646" opacity="0.6"/><ellipse cx="542.36" cy="193.12" rx="2.92" ry="2.57" fill="#505050" opacity="0.6"/><ellipse cx="392.37" cy="200.68" rx="1.75" ry="3.88" fill="#7e7e7e" opacity="0.6"/><ellipse cx="503.9" cy="192.1" rx="2.34" ry="2.21" fill="#505050" opacity="0.6"/><ellipse cx="414.98" cy="175.9" rx="2.84" ry="3.49" fill="#7e7e7e" opacity="0.6"/><ellipse cx="434.27" cy="198.48" rx="1.81" ry="2.53" fill="#7e7e7e" opacity="0.6"/><ellipse cx="531.05" cy="192.55" rx="2.97" ry="3.26" fill="#7e7e7e" opacity="0.6"/><ellipse cx="539.67" cy="177.2" rx="2.63" ry="3.51" fill="#505050" opacity="0.6"/><ellipse cx="479.55" cy="186.29" rx="2.28" ry="3.74" fill="#7e7e7e" opacity="0.6"/><ellipse cx="439.96" cy="194.7" rx="1.75" ry="2.88" fill="#7e7e7e" opacity="0.6"/><ellipse cx="505.23" cy="195.75" rx="2" ry="3.29" fill="#464646" opacity="0.6"/><ellipse cx="489.71" cy="192.82" rx="1.95" ry="3.41" fill="#7e7e7e" opacity="0.6"/><ellipse cx="519.42" cy="178.34" rx="2.96" ry="3.45" fill="#464646" opacity="0.6"/><ellipse cx="470.78" cy="186.29" rx="1.99" ry="2.38" fill="#464646" opacity="0.6"/><ellipse cx="545.98" cy="201.88" rx="1.75" ry="3.32" fill="#464646" opacity="0.6"/><ellipse cx="388.48" cy="178.19" rx="2.69" ry="3.47" fill="#464646" opacity="0.6"/><ellipse cx="436.85" cy="180.04" rx="2.87" ry="2.56" fill="#505050" opacity="0.6"/><ellipse cx="527.82" cy="191.02" rx="2.1" ry="3.58" fill="#464646" opacity="0.6"/><ellipse cx="489.07" cy="192.52" rx="1.94" ry="2.04" fill="#505050" opacity="0.6"/><ellipse cx="400.96" cy="202.27" rx="2.61" ry="3.82" fill="#464646" opacity="0.6"/><ellipse cx="435.87" cy="195.53" rx="2.47" ry="3.69" fill="#505050" opacity="0.6"/><ellipse cx="483.91" cy="198.75" rx="2.55" ry="3.7" fill="#505050" opacity="0.6"/><ellipse cx="486.28" cy="198.3" rx="2.15" ry="2.52" fill="#7e7e7e" opacity="0.6"/><ellipse cx="490.53" cy="208.68" rx="2.67" ry="3.43" fill="#464646" opacity="0.6"/><ellipse cx="476.18" cy="182.25" rx="2.22" ry="2.04" fill="#7e7e7e" opacity="0.6"/><ellipse cx="522.42" cy="193.25" rx="2.9" ry="2.37" fill="#505050" opacity="0.6"/><ellipse cx="481.21" cy="203.91" rx="2.75" ry="3.82" fill="#7e7e7e" opacity="0.6"/><ellipse cx="370.49" cy="182.3" rx="1.74" ry="3.56" fill="#464646" opacity="0.6"/><ellipse cx="539" cy="193.29" rx="2.77" ry="2.91" fill="#464646" opacity="0.6"/><ellipse cx="390.41" cy="191.51" rx="2.46" ry="3.66" fill="#464646" opacity="0.6"/><ellipse cx="454.38" cy="188.82" rx="1.82" ry="3.37" fill="#7e7e7e" opacity="0.6"/><ellipse cx="428.28" cy="203.27" rx="2.59" ry="3.23" fill="#464646" opacity="0.6"/><ellipse cx="477.79" cy="182.35" rx="2.1" ry="2.03" fill="#7e7e7e" opacity="0.6"/><ellipse cx="433.55" cy="189.24" rx="2.51" ry="3.16" fill="#505050" opacity="0.6"/><ellipse cx="371.07" cy="184.44" rx="2.91" ry="3.05" fill="#7e7e7e" opacity="0.6"/><ellipse cx="393.22" cy="204.86" rx="2.19" ry="2.33" fill="#7e7e7e" opacity="0.6"/><ellipse cx="536.74" cy="174.82" rx="1.79" ry="3.28" fill="#505050" opacity="0.6"/><ellipse cx="494.58" cy="205.4" rx="2.03" ry="3.28" fill="#464646" opacity="0.6"/><ellipse cx="514.39" cy="205.46" rx="2.99" ry="3.52" fill="#7e7e7e" opacity="0.6"/><ellipse cx="480.22" cy="203.97" rx="2.03" ry="3.7" fill="#7e7e7e" opacity="0.6"/><ellipse cx="403.02" cy="187.42" rx="2.97" ry="3.36" fill="#7e7e7e" opacity="0.6"/><ellipse cx="446.28" cy="205.02" rx="2.04" ry="3.31" fill="#7e7e7e" opacity="0.6"/><ellipse cx="413.7" cy="191.88" rx="2.46" ry="3.32" fill="#505050" opacity="0.6"/><ellipse cx="422.21" cy="210.08" rx="1.59" ry="3.66" fill="#7e7e7e" opacity="0.6"/><ellipse cx="531.97" cy="204.15" rx="2.3" ry="2.69" fill="#464646" opacity="0.6"/><ellipse cx="466.66" cy="198.95" rx="2.93" ry="3.31" fill="#464646" opacity="0.6"/></g>
<g filter="url(#bl2)"><rect x="349" y="350" width="202" height="108" fill="#5a5a5a"/><rect x="349" y="350" width="202" height="108" fill="#5a5a5a" filter="url(#streak)" opacity="0.75"/><rect x="347.7" y="350" width="2" height="108" fill="#363636" opacity="0.8"/><rect x="360.52" y="350" width="2" height="108" fill="#363636" opacity="0.8"/><rect x="373.34" y="350" width="2" height="108" fill="#363636" opacity="0.8"/><rect x="386.16" y="350" width="2" height="108" fill="#363636" opacity="0.8"/><rect x="398.98" y="350" width="2" height="108" fill="#363636" opacity="0.8"/><rect x="411.8" y="350" width="2" height="108" fill="#363636" opacity="0.8"/><rect x="424.62" y="350" width="2" height="108" fill="#363636" opacity="0.8"/><rect x="437.44" y="350" width="2" height="108" fill="#363636" opacity="0.8"/><rect x="450.26" y="350" width="2" height="108" fill="#363636" opacity="0.8"/><rect x="463.08" y="350" width="2" height="108" fill="#363636" opacity="0.8"/><rect x="475.9" y="350" width="2" height="108" fill="#363636" opacity="0.8"/><rect x="488.72" y="350" width="2" height="108" fill="#363636" opacity="0.8"/><rect x="501.54" y="350" width="2" height="108" fill="#363636" opacity="0.8"/><rect x="514.36" y="350" width="2" height="108" fill="#363636" opacity="0.8"/><rect x="527.18" y="350" width="2" height="108" fill="#363636" opacity="0.8"/><rect x="540" y="350" width="2" height="108" fill="#363636" opacity="0.8"/><rect x="519.8" y="350" width="2.2" height="108" fill="#909090"/><rect x="468" y="350" width="2" height="108" fill="#7e7e7e"/></g>
<rect x="349" y="13" width="202" height="337" fill="#808080" filter="url(#noise)" opacity="0.16"/>
<rect x="349" y="10" width="202" height="3.2" fill="#383838"/>
</g>
<rect x="527" y="9" width="25" height="36" fill="#000"/>
<text x="539.5" y="43" text-anchor="middle" font-family="Liberation Serif" font-size="46" fill="#fff">b</text>
<path d="M359,464V472.8H376.5V464" stroke="#333" stroke-width="2" fill="none"/>
<text x="355" y="500.5" font-family="Liberation Serif" font-size="24.5" fill="#222" stroke="#222" stroke-width="0.5">1µm</text>
<rect x="918.8" y="28" width="124.2" height="380.5" fill="#bfbfbf"/>
<rect x="969.1" y="28" width="23.4" height="380.5" fill="#a55e62"/>
<g stroke="#2e2e2e" fill="none" stroke-width="2.3">
<rect x="690" y="28" width="548.5" height="380.5"/>
<path d="M711.95,408.5v-10M711.95,28v10"/>
<path d="M733.89,408.5v-20M733.89,28v20"/>
<path d="M755.84,408.5v-10M755.84,28v10"/>
<path d="M777.78,408.5v-10M777.78,28v10"/>
<path d="M799.73,408.5v-10M799.73,28v10"/>
<path d="M821.67,408.5v-20M821.67,28v20"/>
<path d="M843.62,408.5v-10M843.62,28v10"/>
<path d="M865.56,408.5v-10M865.56,28v10"/>
<path d="M887.5,408.5v-10M887.5,28v10"/>
<path d="M909.45,408.5v-20M909.45,28v20"/>
<path d="M931.39,408.5v-10M931.39,28v10"/>
<path d="M953.34,408.5v-10M953.34,28v10"/>
<path d="M975.29,408.5v-10M975.29,28v10"/>
<path d="M997.23,408.5v-20M997.23,28v20"/>
<path d="M1019.17,408.5v-10M1019.17,28v10"/>
<path d="M1041.12,408.5v-10M1041.12,28v10"/>
<path d="M1063.07,408.5v-10M1063.07,28v10"/>
<path d="M1085.01,408.5v-20M1085.01,28v20"/>
<path d="M1106.95,408.5v-10M1106.95,28v10"/>
<path d="M1128.9,408.5v-10M1128.9,28v10"/>
<path d="M1150.85,408.5v-10M1150.85,28v10"/>
<path d="M1172.79,408.5v-20M1172.79,28v20"/>
<path d="M1194.74,408.5v-10M1194.74,28v10"/>
<path d="M1216.68,408.5v-10M1216.68,28v10"/>
<path d="M690,393.28h11"/>
<path d="M690,378.06h11"/>
<path d="M690,362.84h11"/>
<path d="M690,347.62h11"/>
<path d="M690,332.4h21"/>
<path d="M690,317.18h11"/>
<path d="M690,301.96h11"/>
<path d="M690,286.74h11"/>
<path d="M690,271.52h11"/>
<path d="M690,256.3h21"/>
<path d="M690,241.08h11"/>
<path d="M690,225.86h11"/>
<path d="M690,210.64h11"/>
<path d="M690,195.42h11"/>
<path d="M690,180.2h21"/>
<path d="M690,164.98h11"/>
<path d="M690,149.76h11"/>
<path d="M690,134.54h11"/>
<path d="M690,119.32h11"/>
<path d="M690,104.1h21"/>
<path d="M690,88.88h11"/>
<path d="M690,73.66h11"/>
<path d="M690,58.44h11"/>
<path d="M690,43.22h11"/>
<path d="M1238.5,384.7h-11"/>
<path d="M1238.5,360.9h-11"/>
<path d="M1238.5,337.1h-11"/>
<path d="M1238.5,313.3h-21"/>
<path d="M1238.5,289.5h-11"/>
<path d="M1238.5,265.7h-11"/>
<path d="M1238.5,241.9h-11"/>
<path d="M1238.5,218.1h-21"/>
<path d="M1238.5,194.3h-11"/>
<path d="M1238.5,170.5h-11"/>
<path d="M1238.5,146.7h-11"/>
<path d="M1238.5,122.9h-21"/>
<path d="M1238.5,99.1h-11"/>
<path d="M1238.5,75.3h-11"/>
<path d="M1238.5,51.5h-11"/>
</g>
<g font-family="Liberation Serif" font-size="28.3" fill="#111">
<text transform="translate(681.2,420.02) scale(1.03,1.1)" text-anchor="end" stroke="#111" stroke-width="0.25">0</text>
<text transform="translate(681.2,343.92) scale(1.03,1.1)" text-anchor="end" stroke="#111" stroke-width="0.25">5</text>
<text transform="translate(681.2,267.82) scale(1.03,1.1)" text-anchor="end" stroke="#111" stroke-width="0.25">10</text>
<text transform="translate(681.2,191.72) scale(1.03,1.1)" text-anchor="end" stroke="#111" stroke-width="0.25">15</text>
<text transform="translate(681.2,115.62) scale(1.03,1.1)" text-anchor="end" stroke="#111" stroke-width="0.25">20</text>
<text transform="translate(681.2,39.52) scale(1.03,1.1)" text-anchor="end" stroke="#111" stroke-width="0.25">25</text>
<text transform="translate(733.89,443.2) scale(1.03,1.1)" text-anchor="middle" stroke="#111" stroke-width="0.25">1800</text>
<text transform="translate(821.67,443.2) scale(1.03,1.1)" text-anchor="middle" stroke="#111" stroke-width="0.25">2000</text>
<text transform="translate(909.45,443.2) scale(1.03,1.1)" text-anchor="middle" stroke="#111" stroke-width="0.25">2200</text>
<text transform="translate(997.23,443.2) scale(1.03,1.1)" text-anchor="middle" stroke="#111" stroke-width="0.25">2400</text>
<text transform="translate(1085.01,443.2) scale(1.03,1.1)" text-anchor="middle" stroke="#111" stroke-width="0.25">2600</text>
<text transform="translate(1172.79,443.2) scale(1.03,1.1)" text-anchor="middle" stroke="#111" stroke-width="0.25">2800</text>
</g>
<text x="871" y="483.5" font-family="Liberation Serif" font-weight="bold" font-size="28.3" fill="#111">Frecuency, cm<tspan font-size="16.5" dy="-13">-1</tspan></text>
<text transform="translate(630.4,337.5) rotate(-90)" font-family="Liberation Serif" font-weight="bold" font-size="28.3" fill="#111">Transmission, <tspan font-style="italic">T</tspan>(%)</text>
<text transform="translate(1252,5.6) rotate(90)" font-family="Liberation Serif" font-weight="bold" font-size="28.3" fill="#111">Cross section, cm<tspan font-size="16.5" dy="-12">2</tspan><tspan dy="12">/molecule (x10</tspan><tspan font-size="16.5" dy="-12">-18</tspan><tspan dy="12">)</tspan></text>
<g clip-path="url(#cclip)" stroke="#000" stroke-width="3" fill="none" stroke-linejoin="round" stroke-linecap="round">
<path d="M690.5,214.5 C690.68,213.37 691.22,206.2 691.6,207.7 C691.98,209.2 692.42,223.87 692.8,223.5 C693.18,223.13 693.53,206.63 693.9,205.5 C694.27,204.37 694.62,213.12 695,216.7 C695.38,220.28 695.82,227.78 696.2,227 C696.58,226.22 696.93,215.58 697.3,212 C697.67,208.42 697.95,207.17 698.4,205.5 C698.85,203.83 699.52,202 700,202 C700.48,202 700.8,202.28 701.3,205.5 C701.8,208.72 702.55,217.17 703,221.3 C703.45,225.43 703.63,230.3 704,230.3 C704.37,230.3 704.63,222.62 705.2,221.3 C705.77,219.98 706.65,221.83 707.4,222.4 C708.15,222.97 709.13,223.6 709.7,224.7 C710.27,225.8 710.42,229 710.8,229 C711.18,229 711.63,225.23 712,224.7 C712.37,224.17 712.63,224.48 713,225.8 C713.37,227.12 713.62,231.28 714.2,232.6 C714.78,233.92 715.75,232.97 716.5,233.7 C717.25,234.43 718.13,235.12 718.7,237 C719.27,238.88 719.52,241.6 719.9,245 C720.28,248.4 720.65,256.83 721,257.4 C721.35,257.97 721.63,248.8 722,248.4 C722.37,248 722.8,255 723.2,255 C723.6,255 723.63,249.7 724.4,248.4 C725.17,247.1 726.87,246.65 727.8,247.2 C728.73,247.75 729.47,251.9 730,251.7 C730.53,251.5 730.43,248.07 731,246 C731.57,243.93 732.62,241.92 733.4,239.3 C734.18,236.68 734.77,234.43 735.7,230.3 C736.63,226.17 738.07,219.77 739,214.5 C739.93,209.23 740.53,202.08 741.3,198.7 C742.07,195.32 742.85,195.52 743.6,194.2 C744.35,192.88 745.23,193.43 745.8,190.8 C746.37,188.17 746.43,181.42 747,178.4 C747.57,175.38 748.45,173.83 749.2,172.7 C749.95,171.57 750.93,170.28 751.5,171.6 C752.07,172.92 752.23,178.53 752.6,180.6 C752.97,182.67 753.33,184.57 753.7,184 C754.07,183.43 754.23,177.95 754.8,177.2 C755.37,176.45 756.33,177.42 757.1,179.5 C757.87,181.58 758.65,186.12 759.4,189.7 C760.15,193.28 761.05,196.68 761.6,201 C762.15,205.32 762.32,213.35 762.7,215.6 C763.08,217.85 763.52,215.43 763.9,214.5 C764.28,213.57 764.25,210.38 765,210 C765.75,209.62 767.27,211.45 768.4,212.2 C769.53,212.95 770.67,215.25 771.8,214.5 C772.93,213.75 774.27,210.33 775.2,207.7 C776.13,205.07 776.6,201.82 777.4,198.7 C778.2,195.58 779.18,192.5 780,189 C780.82,185.5 781.55,180.7 782.3,177.7 C783.05,174.7 783.75,173.25 784.5,171 C785.25,168.75 786.12,166.65 786.8,164.2 C787.48,161.75 787.85,158.37 788.6,156.3 C789.35,154.23 790.4,152.18 791.3,151.8 C792.2,151.42 793.25,151.93 794,154 C794.75,156.07 795.13,161.57 795.8,164.2 C796.47,166.83 797.25,167.92 798,169.8 C798.75,171.68 799.53,172.68 800.3,175.5 C801.07,178.32 801.85,182.95 802.6,186.7 C803.35,190.45 803.87,194.98 804.8,198 C805.73,201.02 806.88,203.22 808.2,204.8 C809.52,206.38 811.2,207.3 812.7,207.5 C814.2,207.7 816.07,207.75 817.2,206 C818.33,204.25 818.55,200.22 819.5,197 C820.45,193.78 821.77,189.73 822.9,186.7 C824.03,183.67 825.37,180.3 826.3,178.8 C827.23,177.3 827.57,178.55 828.5,177.7 C829.43,176.85 830.77,173.7 831.9,173.7 C833.03,173.7 834.17,175.53 835.3,177.7 C836.43,179.87 837.57,183.32 838.7,186.7 C839.83,190.08 840.97,194.62 842.1,198 C843.23,201.38 844.18,204.73 845.5,207 C846.82,209.27 848.68,211.6 850,211.6 C851.32,211.6 852.47,209.63 853.4,207 C854.33,204.37 854.67,201.05 855.6,195.8 C856.53,190.55 857.87,182.28 859,175.5 C860.13,168.72 861.27,161.52 862.4,155.1 C863.53,148.68 864.67,141.2 865.8,137 C866.93,132.8 868.27,130.63 869.2,129.9 C870.13,129.17 870.65,130.27 871.4,132.6 C872.15,134.93 872.95,139.02 873.7,143.9 C874.45,148.78 875.15,155.13 875.9,161.9 C876.65,168.67 877.28,175.83 878.2,184.5 C879.12,193.17 880.48,205.62 881.4,213.9 C882.32,222.18 882.93,227.82 883.7,234.2 C884.47,240.58 885.25,246.93 886,252.2 C886.75,257.47 887.27,262.22 888.2,265.8 C889.13,269.38 890.28,271.63 891.6,273.7 C892.92,275.77 894.6,276.52 896.1,278.2 C897.6,279.88 899.28,280.98 900.6,283.8 C901.92,286.62 903.13,291.82 904,295.1 C904.87,298.38 905.13,299.47 905.8,303.5 C906.47,307.53 907.25,314.03 908,319.3 C908.75,324.57 909.53,329.82 910.3,335.1 C911.07,340.38 911.85,346.1 912.6,351 C913.35,355.9 913.87,360 914.8,364.5 C915.73,369 917.07,374.25 918.2,378 C919.33,381.75 920.28,384.28 921.6,387 C922.92,389.72 924.4,392.22 926.1,394.3 C927.8,396.38 929.73,398.27 931.8,399.5 C933.87,400.73 936.07,401.22 938.5,401.7 C940.93,402.18 943.95,402.2 946.4,402.4 C948.85,402.6 951.32,403.13 953.2,402.9 C955.08,402.67 956.38,401.95 957.7,401 C959.02,400.05 960.15,398.77 961.1,397.2 C962.05,395.63 962.65,394.03 963.4,391.6 C964.15,389.17 964.85,386.37 965.6,382.6 C966.35,378.83 967.15,374.65 967.9,369 C968.65,363.35 969.35,356.22 970.1,348.7 C970.85,341.18 971.63,332.02 972.4,323.9 C973.17,315.78 974.12,309.7 974.7,300 C975.28,290.3 975.48,276.1 975.9,265.7 C976.32,255.3 976.57,246.2 977.2,237.6 C977.83,229 978.92,214.1 979.7,214.1 C980.48,214.1 981.25,229 981.9,237.6 C982.55,246.2 983.12,256.97 983.6,265.7 C984.08,274.43 984.35,282.28 984.8,290 C985.25,297.72 985.73,304.48 986.3,312 C986.87,319.52 987.5,327.48 988.2,335.1 C988.9,342.72 989.55,350.92 990.5,357.7 C991.45,364.48 992.58,370.53 993.9,375.8 C995.22,381.07 996.53,386.1 998.4,389.3 C1000.27,392.5 1002.47,393.8 1005.1,395 C1007.73,396.2 1011.18,396.4 1014.2,396.5 C1017.22,396.6 1020.2,396.05 1023.2,395.6 C1026.2,395.15 1029.75,394.85 1032.2,393.8 C1034.65,392.75 1036.2,391.55 1037.9,389.3 C1039.6,387.05 1041.08,384.07 1042.4,380.3 C1043.72,376.53 1044.87,371.97 1045.8,366.7 C1046.73,361.43 1047.25,355.47 1048,348.7 C1048.75,341.93 1049.53,334.22 1050.3,326.1 C1051.07,317.98 1051.87,310.97 1052.6,300 C1053.33,289.03 1053.98,270.68 1054.7,260.3 C1055.42,249.92 1056.03,244.67 1056.9,237.7 C1057.77,230.73 1058.95,219.25 1059.9,218.5 C1060.85,217.75 1061.78,226.98 1062.6,233.2 C1063.42,239.42 1064,246.33 1064.8,255.8 C1065.6,265.27 1066.27,279.95 1067.4,290 C1068.53,300.05 1070.33,309.12 1071.6,316.1 C1072.87,323.08 1073.87,327.38 1075,331.9 C1076.13,336.42 1077.27,340.87 1078.4,343.2 C1079.53,345.53 1080.48,345.72 1081.8,345.9 C1083.12,346.08 1084.98,345.68 1086.3,344.3 C1087.62,342.92 1088.38,341.92 1089.7,337.6 C1091.02,333.28 1092.7,325 1094.2,318.4 C1095.7,311.8 1097.48,303.57 1098.7,298 C1099.92,292.43 1100.37,291.28 1101.5,285 C1102.63,278.72 1104.08,268.18 1105.5,260.3 C1106.92,252.42 1108.13,245.23 1110,237.7 C1111.87,230.17 1114.45,221.87 1116.7,215.1 C1118.95,208.33 1121.23,201.8 1123.5,197.1 C1125.77,192.4 1128.42,188.33 1130.3,186.9 C1132.18,185.47 1133.35,186.82 1134.8,188.5 C1136.25,190.18 1137.92,193.7 1139,197 C1140.08,200.3 1140.55,204.17 1141.3,208.3 C1142.05,212.43 1142.75,217.28 1143.5,221.8 C1144.25,226.32 1144.85,230.88 1145.8,235.4 C1146.75,239.92 1148.08,244.97 1149.2,248.9 C1150.32,252.83 1151.38,256.37 1152.5,259 C1153.62,261.63 1154.38,263.08 1155.9,264.7 C1157.42,266.32 1159.9,268.7 1161.6,268.7 C1163.3,268.7 1164.78,266.87 1166.1,264.7 C1167.42,262.53 1168.38,259.47 1169.5,255.7 C1170.62,251.93 1171.68,246.62 1172.8,242.1 C1173.92,237.58 1175.07,233.1 1176.2,228.6 C1177.33,224.1 1178.47,218.85 1179.6,215.1 C1180.73,211.35 1181.68,208.17 1183,206.1 C1184.32,204.03 1186,202.9 1187.5,202.7 C1189,202.5 1190.68,203.4 1192,204.9 C1193.32,206.4 1194.27,209.25 1195.4,211.7 C1196.53,214.15 1197.68,216.97 1198.8,219.6 C1199.92,222.23 1200.98,225.25 1202.1,227.5 C1203.22,229.75 1204.37,231.6 1205.5,233.1 C1206.63,234.6 1207.77,235.25 1208.9,236.5 C1210.03,237.75 1211.17,239.73 1212.3,240.6 C1213.43,241.47 1214.58,241.45 1215.7,241.7 C1216.82,241.95 1217.88,241.83 1219,242.1 C1220.12,242.37 1221.27,243.37 1222.4,243.3 C1223.53,243.23 1224.67,242.27 1225.8,241.7 C1226.93,241.13 1228.07,240.13 1229.2,239.9 C1230.33,239.67 1231.47,240.3 1232.6,240.3 C1233.73,240.3 1235.02,240.03 1236,239.9 C1236.98,239.77 1238.08,239.57 1238.5,239.5"/>
<path d="M905,22 C907.17,22.33 914.83,23.25 918,24 C921.17,24.75 922.25,25.67 924,26.5 C925.75,27.33 926.8,27.83 928.5,29 C930.2,30.17 932.5,31.23 934.2,33.5 C935.9,35.77 937.38,39.2 938.7,42.6 C940.02,46 940.97,49.77 942.1,53.9 C943.23,58.03 944.45,62.88 945.5,67.4 C946.55,71.92 947.53,76.12 948.4,81 C949.27,85.88 949.87,92.75 950.7,96.7 C951.53,100.65 952.38,102.05 953.4,104.7 C954.42,107.35 955.68,109.78 956.8,112.6 C957.92,115.42 959.17,120.87 960.1,121.6 C961.03,122.33 961.63,120.77 962.4,117 C963.17,113.23 963.95,104.63 964.7,99 C965.45,93.37 966.15,86.77 966.9,83.2 C967.65,79.63 968.45,77.6 969.2,77.6 C969.95,77.6 970.65,79.25 971.4,83.2 C972.15,87.15 972.93,94.9 973.7,101.3 C974.47,107.7 975.17,115.77 976,121.6 C976.83,127.43 977.95,134.42 978.7,136.3 C979.45,138.18 979.83,136.48 980.5,132.9 C981.17,129.32 981.95,121.2 982.7,114.8 C983.45,108.4 984.25,101.27 985,94.5 C985.75,87.73 986.38,80.6 987.2,74.2 C988.02,67.8 988.93,61.75 989.9,56.1 C990.87,50.45 991.93,44.43 993,40.3 C994.07,36.17 995.18,33.25 996.3,31.3 C997.42,29.35 998.42,29.4 999.7,28.6 C1000.98,27.8 1001.45,27.27 1004,26.5 C1006.55,25.73 1013.17,24.42 1015,24"/>
</g>
<rect x="1214" y="27" width="25" height="37.6" fill="#000"/>
<text transform="translate(1225,62.5) scale(0.9,1)" text-anchor="middle" font-family="Liberation Serif" font-size="50" fill="#fff">c</text>
</svg>
</body></html>
